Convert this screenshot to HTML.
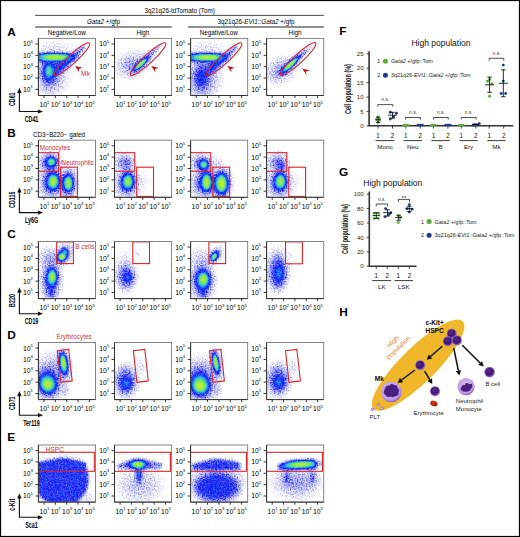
<!DOCTYPE html><html><head><meta charset="utf-8"><style>html,body{margin:0;padding:0;background:#fff}svg{display:block}text{font-family:"Liberation Sans",sans-serif}</style></head><body>
<svg width="520" height="537" viewBox="0 0 520 537">
<defs>
<filter id="b0" x="-100%" y="-100%" width="300%" height="300%"><feGaussianBlur stdDeviation="0.6"/></filter>
<filter id="b1" x="-100%" y="-100%" width="300%" height="300%"><feGaussianBlur stdDeviation="1"/></filter>
<filter id="b2" x="-100%" y="-100%" width="300%" height="300%"><feGaussianBlur stdDeviation="1.5"/></filter>
<filter id="b3" x="-100%" y="-100%" width="300%" height="300%"><feGaussianBlur stdDeviation="2.2"/></filter>
<filter id="b4" x="-100%" y="-100%" width="300%" height="300%"><feGaussianBlur stdDeviation="3.2"/></filter>
<filter id="g0" x="-100%" y="-100%" width="300%" height="300%"><feGaussianBlur stdDeviation="0.5"/></filter>
<filter id="g1" x="-100%" y="-100%" width="300%" height="300%"><feGaussianBlur stdDeviation="0.7"/></filter>
<filter id="g2" x="-100%" y="-100%" width="300%" height="300%"><feGaussianBlur stdDeviation="1"/></filter>
<filter id="g3" x="-100%" y="-100%" width="300%" height="300%"><feGaussianBlur stdDeviation="1.3"/></filter>
<filter id="g4" x="-100%" y="-100%" width="300%" height="300%"><feGaussianBlur stdDeviation="1.6"/></filter>
<filter id="g5" x="-100%" y="-100%" width="300%" height="300%"><feGaussianBlur stdDeviation="2"/></filter>
<filter id="g6" x="-100%" y="-100%" width="300%" height="300%"><feGaussianBlur stdDeviation="2.5"/></filter>
<filter id="g7" x="-100%" y="-100%" width="300%" height="300%"><feGaussianBlur stdDeviation="3"/></filter>
<filter id="g8" x="-100%" y="-100%" width="300%" height="300%"><feGaussianBlur stdDeviation="3.6"/></filter>
<filter id="g9" x="-100%" y="-100%" width="300%" height="300%"><feGaussianBlur stdDeviation="4.3"/></filter>
<filter id="g10" x="-100%" y="-100%" width="300%" height="300%"><feGaussianBlur stdDeviation="5"/></filter>
<filter id="cm" filterUnits="userSpaceOnUse" x="0" y="0" width="57.1" height="57.1" color-interpolation-filters="sRGB"><feColorMatrix in="SourceGraphic" type="matrix" values="0 0 0 1 0 0 0 0 1 0 0 0 0 1 0 0 0 0 0 1" result="d"/><feComponentTransfer in="d" result="h"><feFuncR type="table" tableValues="0 1 1 1 .9 .6 .35 .2 .12 .08 .06"/><feFuncG type="table" tableValues="0 1 1 1 .9 .6 .35 .2 .12 .08 .06"/><feFuncB type="table" tableValues="0 1 1 1 .9 .6 .35 .2 .12 .08 .06"/></feComponentTransfer><feTurbulence type="fractalNoise" baseFrequency="0.75" numOctaves="1" seed="4"/><feColorMatrix type="matrix" values="1 0 0 0 0 1 0 0 0 0 1 0 0 0 0 0 0 0 0 1" result="n"/><feComposite in="h" in2="n" operator="arithmetic" k1="0.8" k2="-0.4" k3="0" k4="0.5" result="t"/><feComposite in="d" in2="t" operator="arithmetic" k1="0" k2="1" k3="1" k4="-0.54" result="dn"/><feComponentTransfer in="dn"><feFuncR type="table" tableValues="1 .87 .73 .55 .30 .05 .12 .24 .47 .67 .9"/><feFuncG type="table" tableValues="1 .87 .73 .57 .33 .10 .47 .78 .90 .94 .92"/><feFuncB type="table" tableValues="1 1 1 .99 .98 .99 .94 .82 .43 .20 .08"/><feFuncA type="linear" slope="0" intercept="1"/></feComponentTransfer></filter>
<marker id="ah" viewBox="0 0 10 10" refX="9" refY="5" markerWidth="4" markerHeight="4" orient="auto"><path d="M0 0L10 5L0 10z" fill="#111"/></marker>
</defs>
<rect x="0.5" y="0.5" width="519" height="536" fill="#fff" stroke="#000" stroke-width="1.2"/>
<svg x="38.4" y="38.4" width="57.1" height="57.1" overflow="hidden">
<g filter="url(#cm)">
<ellipse cx="14" cy="40" rx="18.2" ry="18.2" fill-opacity="0.08" filter="url(#g10)"/>
<ellipse cx="14" cy="40" rx="11.9" ry="11.9" fill-opacity="0.07" filter="url(#g9)"/>
<ellipse cx="14" cy="40" rx="7.7" ry="7.7" fill-opacity="0.05" filter="url(#g6)"/>
<ellipse cx="14" cy="40" rx="4.2" ry="4.2" fill-opacity="0.02" filter="url(#g4)"/>
<ellipse cx="18" cy="8" rx="23.4" ry="7.8" fill-opacity="0.03" filter="url(#g6)"/>
<ellipse cx="18" cy="8" rx="15.3" ry="5.1" fill-opacity="0.03" filter="url(#g4)"/>
<ellipse cx="18" cy="8" rx="9.9" ry="3.3" fill-opacity="0.02" filter="url(#g3)"/>
<ellipse cx="18" cy="8" rx="5.4" ry="1.8" fill-opacity="0.01" filter="url(#g1)"/>
<ellipse cx="10" cy="33.5" rx="11.7" ry="20.15" fill-opacity="0.18" filter="url(#g9)"/>
<ellipse cx="10" cy="33.5" rx="7.65" ry="13.17" fill-opacity="0.17" filter="url(#g6)"/>
<ellipse cx="10" cy="33.5" rx="4.95" ry="8.53" fill-opacity="0.13" filter="url(#g4)"/>
<ellipse cx="10" cy="33.5" rx="2.7" ry="4.65" fill-opacity="0.06" filter="url(#g2)"/>
<ellipse cx="10.5" cy="32.5" rx="6.5" ry="9.1" fill-opacity="0.24" filter="url(#g6)"/>
<ellipse cx="10.5" cy="32.5" rx="4.25" ry="5.95" fill-opacity="0.25" filter="url(#g4)"/>
<ellipse cx="10.5" cy="32.5" rx="2.75" ry="3.85" fill-opacity="0.21" filter="url(#g2)"/>
<ellipse cx="10.5" cy="32.5" rx="1.5" ry="2.1" fill-opacity="0.11" filter="url(#g0)"/>
<ellipse cx="22" cy="27" rx="10.4" ry="7.8" fill-opacity="0.12" transform="rotate(-30 22 27)" filter="url(#g6)"/>
<ellipse cx="22" cy="27" rx="6.8" ry="5.1" fill-opacity="0.11" transform="rotate(-30 22 27)" filter="url(#g4)"/>
<ellipse cx="22" cy="27" rx="4.4" ry="3.3" fill-opacity="0.08" transform="rotate(-30 22 27)" filter="url(#g3)"/>
<ellipse cx="22" cy="27" rx="2.4" ry="1.8" fill-opacity="0.03" transform="rotate(-30 22 27)" filter="url(#g1)"/>
<path d="M-2 15 L33 15.3 L24 22 L-2 23 Z" fill-opacity="0.5" filter="url(#b1)"/>
<ellipse cx="17.5" cy="18.7" rx="22.1" ry="5.2" fill-opacity="0.35" transform="rotate(0.5 17.5 18.7)" filter="url(#g5)"/>
<ellipse cx="17.5" cy="18.7" rx="14.45" ry="3.4" fill-opacity="0.43" transform="rotate(0.5 17.5 18.7)" filter="url(#g3)"/>
<ellipse cx="17.5" cy="18.7" rx="9.35" ry="2.2" fill-opacity="0.47" transform="rotate(0.5 17.5 18.7)" filter="url(#g1)"/>
<ellipse cx="17.5" cy="18.7" rx="5.1" ry="1.2" fill-opacity="0.35" transform="rotate(0.5 17.5 18.7)" filter="url(#g0)"/>
<ellipse cx="30" cy="23" rx="22.1" ry="4.94" fill-opacity="0.17" transform="rotate(-43 30 23)" filter="url(#g4)"/>
<ellipse cx="30" cy="23" rx="14.45" ry="3.23" fill-opacity="0.16" transform="rotate(-43 30 23)" filter="url(#g2)"/>
<ellipse cx="30" cy="23" rx="9.35" ry="2.09" fill-opacity="0.12" transform="rotate(-43 30 23)" filter="url(#g1)"/>
<ellipse cx="30" cy="23" rx="5.1" ry="1.14" fill-opacity="0.05" transform="rotate(-43 30 23)" filter="url(#g0)"/>
<ellipse cx="42" cy="12" rx="11.7" ry="3.25" fill-opacity="0.08" transform="rotate(-43 42 12)" filter="url(#g2)"/>
<ellipse cx="42" cy="12" rx="7.65" ry="2.12" fill-opacity="0.07" transform="rotate(-43 42 12)" filter="url(#g1)"/>
<ellipse cx="42" cy="12" rx="4.95" ry="1.38" fill-opacity="0.05" transform="rotate(-43 42 12)" filter="url(#g0)"/>
<ellipse cx="42" cy="12" rx="2.7" ry="0.75" fill-opacity="0.02" transform="rotate(-43 42 12)" filter="url(#g0)"/>
</g>
<ellipse cx="33.6" cy="20.7" rx="23.7" ry="4.5" transform="rotate(-42.5 33.6 20.7)" fill="none" stroke="#d92525" stroke-width="1.1"/>
<path d="M36.6 27.6L44.3 29.4L40.4 30.6L41 34.2Z" fill="#c01818"/>
</svg>
<rect x="38.4" y="38.4" width="57.1" height="57.1" fill="none" stroke="#777" stroke-width="0.9"/>
<path d="M38.4 38.4V95.5H95.5" fill="none" stroke="#333" stroke-width="1"/>
<path d="M35.4 44H38.4M44 95.5V98.1M35.4 55.35H38.4M55.35 95.5V98.1M35.4 66.7H38.4M66.7 95.5V98.1M35.4 78.05H38.4M78.05 95.5V98.1M35.4 89.4H38.4M89.4 95.5V98.1" stroke="#222" stroke-width="0.9"/>
<text x="33" y="46.4" font-size="6.8" text-anchor="end">10<tspan dy="-3.5" font-size="4.3">5</tspan></text>
<text x="44.4" y="107" font-size="6.8" text-anchor="middle">10<tspan dy="-3.5" font-size="4.3">1</tspan></text>
<text x="33" y="57.75" font-size="6.8" text-anchor="end">10<tspan dy="-3.5" font-size="4.3">4</tspan></text>
<text x="55.75" y="107" font-size="6.8" text-anchor="middle">10<tspan dy="-3.5" font-size="4.3">2</tspan></text>
<text x="33" y="69.1" font-size="6.8" text-anchor="end">10<tspan dy="-3.5" font-size="4.3">3</tspan></text>
<text x="67.1" y="107" font-size="6.8" text-anchor="middle">10<tspan dy="-3.5" font-size="4.3">3</tspan></text>
<text x="33" y="80.45" font-size="6.8" text-anchor="end">10<tspan dy="-3.5" font-size="4.3">2</tspan></text>
<text x="78.45" y="107" font-size="6.8" text-anchor="middle">10<tspan dy="-3.5" font-size="4.3">4</tspan></text>
<text x="33" y="91.8" font-size="6.8" text-anchor="end">10<tspan dy="-3.5" font-size="4.3">1</tspan></text>
<text x="89.8" y="107" font-size="6.8" text-anchor="middle">10<tspan dy="-3.5" font-size="4.3">5</tspan></text>
<svg x="114.5" y="38.4" width="57.1" height="57.1" overflow="hidden">
<g filter="url(#cm)">
<ellipse cx="16" cy="26" rx="18.2" ry="13" fill-opacity="0.11" transform="rotate(-25 16 26)" filter="url(#g9)"/>
<ellipse cx="16" cy="26" rx="11.9" ry="8.5" fill-opacity="0.1" transform="rotate(-25 16 26)" filter="url(#g7)"/>
<ellipse cx="16" cy="26" rx="7.7" ry="5.5" fill-opacity="0.07" transform="rotate(-25 16 26)" filter="url(#g5)"/>
<ellipse cx="16" cy="26" rx="4.2" ry="3" fill-opacity="0.03" transform="rotate(-25 16 26)" filter="url(#g2)"/>
<ellipse cx="28" cy="24" rx="20.8" ry="5.46" fill-opacity="0.15" transform="rotate(-43 28 24)" filter="url(#g5)"/>
<ellipse cx="28" cy="24" rx="13.6" ry="3.57" fill-opacity="0.14" transform="rotate(-43 28 24)" filter="url(#g3)"/>
<ellipse cx="28" cy="24" rx="8.8" ry="2.31" fill-opacity="0.1" transform="rotate(-43 28 24)" filter="url(#g1)"/>
<ellipse cx="28" cy="24" rx="4.8" ry="1.26" fill-opacity="0.05" transform="rotate(-43 28 24)" filter="url(#g0)"/>
<ellipse cx="26.5" cy="25.5" rx="11.7" ry="3.12" fill-opacity="0.34" transform="rotate(-43 26.5 25.5)" filter="url(#g2)"/>
<ellipse cx="26.5" cy="25.5" rx="7.65" ry="2.04" fill-opacity="0.41" transform="rotate(-43 26.5 25.5)" filter="url(#g1)"/>
<ellipse cx="26.5" cy="25.5" rx="4.95" ry="1.32" fill-opacity="0.44" transform="rotate(-43 26.5 25.5)" filter="url(#g0)"/>
<ellipse cx="26.5" cy="25.5" rx="2.7" ry="0.72" fill-opacity="0.31" transform="rotate(-43 26.5 25.5)" filter="url(#g0)"/>
<ellipse cx="40" cy="12" rx="10.4" ry="2.86" fill-opacity="0.09" transform="rotate(-43 40 12)" filter="url(#g2)"/>
<ellipse cx="40" cy="12" rx="6.8" ry="1.87" fill-opacity="0.08" transform="rotate(-43 40 12)" filter="url(#g1)"/>
<ellipse cx="40" cy="12" rx="4.4" ry="1.21" fill-opacity="0.05" transform="rotate(-43 40 12)" filter="url(#g0)"/>
<ellipse cx="40" cy="12" rx="2.4" ry="0.66" fill-opacity="0.02" transform="rotate(-43 40 12)" filter="url(#g0)"/>
</g>
<ellipse cx="33.6" cy="20.7" rx="23.7" ry="4.5" transform="rotate(-42.5 33.6 20.7)" fill="none" stroke="#d92525" stroke-width="1.1"/>
<path d="M36.6 27.6L44.3 29.4L40.4 30.6L41 34.2Z" fill="#c01818"/>
</svg>
<rect x="114.5" y="38.4" width="57.1" height="57.1" fill="none" stroke="#777" stroke-width="0.9"/>
<path d="M114.5 38.4V95.5H171.6" fill="none" stroke="#333" stroke-width="1"/>
<path d="M111.5 44H114.5M120.1 95.5V98.1M111.5 55.35H114.5M131.45 95.5V98.1M111.5 66.7H114.5M142.8 95.5V98.1M111.5 78.05H114.5M154.15 95.5V98.1M111.5 89.4H114.5M165.5 95.5V98.1" stroke="#222" stroke-width="0.9"/>
<text x="109.1" y="46.4" font-size="6.8" text-anchor="end">10<tspan dy="-3.5" font-size="4.3">5</tspan></text>
<text x="120.5" y="107" font-size="6.8" text-anchor="middle">10<tspan dy="-3.5" font-size="4.3">1</tspan></text>
<text x="109.1" y="57.75" font-size="6.8" text-anchor="end">10<tspan dy="-3.5" font-size="4.3">4</tspan></text>
<text x="131.85" y="107" font-size="6.8" text-anchor="middle">10<tspan dy="-3.5" font-size="4.3">2</tspan></text>
<text x="109.1" y="69.1" font-size="6.8" text-anchor="end">10<tspan dy="-3.5" font-size="4.3">3</tspan></text>
<text x="143.2" y="107" font-size="6.8" text-anchor="middle">10<tspan dy="-3.5" font-size="4.3">3</tspan></text>
<text x="109.1" y="80.45" font-size="6.8" text-anchor="end">10<tspan dy="-3.5" font-size="4.3">2</tspan></text>
<text x="154.55" y="107" font-size="6.8" text-anchor="middle">10<tspan dy="-3.5" font-size="4.3">4</tspan></text>
<text x="109.1" y="91.8" font-size="6.8" text-anchor="end">10<tspan dy="-3.5" font-size="4.3">1</tspan></text>
<text x="165.9" y="107" font-size="6.8" text-anchor="middle">10<tspan dy="-3.5" font-size="4.3">5</tspan></text>
<svg x="190.6" y="38.4" width="57.1" height="57.1" overflow="hidden">
<g filter="url(#cm)">
<ellipse cx="14" cy="42" rx="18.2" ry="18.2" fill-opacity="0.1" filter="url(#g10)"/>
<ellipse cx="14" cy="42" rx="11.9" ry="11.9" fill-opacity="0.09" filter="url(#g9)"/>
<ellipse cx="14" cy="42" rx="7.7" ry="7.7" fill-opacity="0.06" filter="url(#g6)"/>
<ellipse cx="14" cy="42" rx="4.2" ry="4.2" fill-opacity="0.03" filter="url(#g4)"/>
<ellipse cx="18" cy="8" rx="23.4" ry="7.8" fill-opacity="0.03" filter="url(#g6)"/>
<ellipse cx="18" cy="8" rx="15.3" ry="5.1" fill-opacity="0.03" filter="url(#g4)"/>
<ellipse cx="18" cy="8" rx="9.9" ry="3.3" fill-opacity="0.02" filter="url(#g3)"/>
<ellipse cx="18" cy="8" rx="5.4" ry="1.8" fill-opacity="0.01" filter="url(#g1)"/>
<ellipse cx="10" cy="38" rx="11.7" ry="22.1" fill-opacity="0.17" filter="url(#g9)"/>
<ellipse cx="10" cy="38" rx="7.65" ry="14.45" fill-opacity="0.16" filter="url(#g6)"/>
<ellipse cx="10" cy="38" rx="4.95" ry="9.35" fill-opacity="0.12" filter="url(#g4)"/>
<ellipse cx="10" cy="38" rx="2.7" ry="5.1" fill-opacity="0.05" filter="url(#g2)"/>
<ellipse cx="22" cy="27" rx="10.4" ry="7.8" fill-opacity="0.12" transform="rotate(-30 22 27)" filter="url(#g6)"/>
<ellipse cx="22" cy="27" rx="6.8" ry="5.1" fill-opacity="0.11" transform="rotate(-30 22 27)" filter="url(#g4)"/>
<ellipse cx="22" cy="27" rx="4.4" ry="3.3" fill-opacity="0.08" transform="rotate(-30 22 27)" filter="url(#g3)"/>
<ellipse cx="22" cy="27" rx="2.4" ry="1.8" fill-opacity="0.03" transform="rotate(-30 22 27)" filter="url(#g1)"/>
<path d="M-2 15 L33 15.3 L24 22 L-2 23 Z" fill-opacity="0.5" filter="url(#b1)"/>
<ellipse cx="17.5" cy="18.9" rx="22.1" ry="5.2" fill-opacity="0.35" transform="rotate(0.5 17.5 18.9)" filter="url(#g5)"/>
<ellipse cx="17.5" cy="18.9" rx="14.45" ry="3.4" fill-opacity="0.43" transform="rotate(0.5 17.5 18.9)" filter="url(#g3)"/>
<ellipse cx="17.5" cy="18.9" rx="9.35" ry="2.2" fill-opacity="0.47" transform="rotate(0.5 17.5 18.9)" filter="url(#g1)"/>
<ellipse cx="17.5" cy="18.9" rx="5.1" ry="1.2" fill-opacity="0.35" transform="rotate(0.5 17.5 18.9)" filter="url(#g0)"/>
<ellipse cx="30" cy="23" rx="22.1" ry="4.94" fill-opacity="0.17" transform="rotate(-43 30 23)" filter="url(#g4)"/>
<ellipse cx="30" cy="23" rx="14.45" ry="3.23" fill-opacity="0.16" transform="rotate(-43 30 23)" filter="url(#g2)"/>
<ellipse cx="30" cy="23" rx="9.35" ry="2.09" fill-opacity="0.12" transform="rotate(-43 30 23)" filter="url(#g1)"/>
<ellipse cx="30" cy="23" rx="5.1" ry="1.14" fill-opacity="0.05" transform="rotate(-43 30 23)" filter="url(#g0)"/>
<ellipse cx="42" cy="12" rx="11.7" ry="3.25" fill-opacity="0.08" transform="rotate(-43 42 12)" filter="url(#g2)"/>
<ellipse cx="42" cy="12" rx="7.65" ry="2.12" fill-opacity="0.07" transform="rotate(-43 42 12)" filter="url(#g1)"/>
<ellipse cx="42" cy="12" rx="4.95" ry="1.38" fill-opacity="0.05" transform="rotate(-43 42 12)" filter="url(#g0)"/>
<ellipse cx="42" cy="12" rx="2.7" ry="0.75" fill-opacity="0.02" transform="rotate(-43 42 12)" filter="url(#g0)"/>
</g>
<ellipse cx="33.6" cy="20.7" rx="23.7" ry="4.5" transform="rotate(-42.5 33.6 20.7)" fill="none" stroke="#d92525" stroke-width="1.1"/>
<path d="M36.6 27.6L44.3 29.4L40.4 30.6L41 34.2Z" fill="#c01818"/>
</svg>
<rect x="190.6" y="38.4" width="57.1" height="57.1" fill="none" stroke="#777" stroke-width="0.9"/>
<path d="M190.6 38.4V95.5H247.7" fill="none" stroke="#333" stroke-width="1"/>
<path d="M187.6 44H190.6M196.2 95.5V98.1M187.6 55.35H190.6M207.55 95.5V98.1M187.6 66.7H190.6M218.9 95.5V98.1M187.6 78.05H190.6M230.25 95.5V98.1M187.6 89.4H190.6M241.6 95.5V98.1" stroke="#222" stroke-width="0.9"/>
<text x="185.2" y="46.4" font-size="6.8" text-anchor="end">10<tspan dy="-3.5" font-size="4.3">5</tspan></text>
<text x="196.6" y="107" font-size="6.8" text-anchor="middle">10<tspan dy="-3.5" font-size="4.3">1</tspan></text>
<text x="185.2" y="57.75" font-size="6.8" text-anchor="end">10<tspan dy="-3.5" font-size="4.3">4</tspan></text>
<text x="207.95" y="107" font-size="6.8" text-anchor="middle">10<tspan dy="-3.5" font-size="4.3">2</tspan></text>
<text x="185.2" y="69.1" font-size="6.8" text-anchor="end">10<tspan dy="-3.5" font-size="4.3">3</tspan></text>
<text x="219.3" y="107" font-size="6.8" text-anchor="middle">10<tspan dy="-3.5" font-size="4.3">3</tspan></text>
<text x="185.2" y="80.45" font-size="6.8" text-anchor="end">10<tspan dy="-3.5" font-size="4.3">2</tspan></text>
<text x="230.65" y="107" font-size="6.8" text-anchor="middle">10<tspan dy="-3.5" font-size="4.3">4</tspan></text>
<text x="185.2" y="91.8" font-size="6.8" text-anchor="end">10<tspan dy="-3.5" font-size="4.3">1</tspan></text>
<text x="242" y="107" font-size="6.8" text-anchor="middle">10<tspan dy="-3.5" font-size="4.3">5</tspan></text>
<svg x="266.6" y="38.4" width="57.1" height="57.1" overflow="hidden">
<g filter="url(#cm)">
<ellipse cx="14" cy="32" rx="18.2" ry="13" fill-opacity="0.12" transform="rotate(-30 14 32)" filter="url(#g9)"/>
<ellipse cx="14" cy="32" rx="11.9" ry="8.5" fill-opacity="0.11" transform="rotate(-30 14 32)" filter="url(#g7)"/>
<ellipse cx="14" cy="32" rx="7.7" ry="5.5" fill-opacity="0.08" transform="rotate(-30 14 32)" filter="url(#g5)"/>
<ellipse cx="14" cy="32" rx="4.2" ry="3" fill-opacity="0.03" transform="rotate(-30 14 32)" filter="url(#g2)"/>
<ellipse cx="25" cy="25" rx="19.5" ry="4.68" fill-opacity="0.2" transform="rotate(-43 25 25)" filter="url(#g4)"/>
<ellipse cx="25" cy="25" rx="12.75" ry="3.06" fill-opacity="0.2" transform="rotate(-43 25 25)" filter="url(#g2)"/>
<ellipse cx="25" cy="25" rx="8.25" ry="1.98" fill-opacity="0.16" transform="rotate(-43 25 25)" filter="url(#g1)"/>
<ellipse cx="25" cy="25" rx="4.5" ry="1.08" fill-opacity="0.07" transform="rotate(-43 25 25)" filter="url(#g0)"/>
<ellipse cx="24" cy="26" rx="13" ry="2.99" fill-opacity="0.34" transform="rotate(-43 24 26)" filter="url(#g2)"/>
<ellipse cx="24" cy="26" rx="8.5" ry="1.95" fill-opacity="0.42" transform="rotate(-43 24 26)" filter="url(#g1)"/>
<ellipse cx="24" cy="26" rx="5.5" ry="1.26" fill-opacity="0.45" transform="rotate(-43 24 26)" filter="url(#g0)"/>
<ellipse cx="24" cy="26" rx="3" ry="0.69" fill-opacity="0.33" transform="rotate(-43 24 26)" filter="url(#g0)"/>
<ellipse cx="38" cy="14" rx="11.7" ry="2.86" fill-opacity="0.1" transform="rotate(-43 38 14)" filter="url(#g2)"/>
<ellipse cx="38" cy="14" rx="7.65" ry="1.87" fill-opacity="0.09" transform="rotate(-43 38 14)" filter="url(#g1)"/>
<ellipse cx="38" cy="14" rx="4.95" ry="1.21" fill-opacity="0.06" transform="rotate(-43 38 14)" filter="url(#g0)"/>
<ellipse cx="38" cy="14" rx="2.7" ry="0.66" fill-opacity="0.03" transform="rotate(-43 38 14)" filter="url(#g0)"/>
</g>
<ellipse cx="31.5" cy="20.7" rx="23.9" ry="4.5" transform="rotate(-42.5 31.5 20.7)" fill="none" stroke="#d92525" stroke-width="1.1"/>
<path d="M35.6 30.2L43.3 32L39.4 33.2L40 36.8Z" fill="#c01818"/>
</svg>
<rect x="266.6" y="38.4" width="57.1" height="57.1" fill="none" stroke="#777" stroke-width="0.9"/>
<path d="M266.6 38.4V95.5H323.7" fill="none" stroke="#333" stroke-width="1"/>
<path d="M263.6 44H266.6M272.2 95.5V98.1M263.6 55.35H266.6M283.55 95.5V98.1M263.6 66.7H266.6M294.9 95.5V98.1M263.6 78.05H266.6M306.25 95.5V98.1M263.6 89.4H266.6M317.6 95.5V98.1" stroke="#222" stroke-width="0.9"/>
<text x="261.2" y="46.4" font-size="6.8" text-anchor="end">10<tspan dy="-3.5" font-size="4.3">5</tspan></text>
<text x="272.6" y="107" font-size="6.8" text-anchor="middle">10<tspan dy="-3.5" font-size="4.3">1</tspan></text>
<text x="261.2" y="57.75" font-size="6.8" text-anchor="end">10<tspan dy="-3.5" font-size="4.3">4</tspan></text>
<text x="283.95" y="107" font-size="6.8" text-anchor="middle">10<tspan dy="-3.5" font-size="4.3">2</tspan></text>
<text x="261.2" y="69.1" font-size="6.8" text-anchor="end">10<tspan dy="-3.5" font-size="4.3">3</tspan></text>
<text x="295.3" y="107" font-size="6.8" text-anchor="middle">10<tspan dy="-3.5" font-size="4.3">3</tspan></text>
<text x="261.2" y="80.45" font-size="6.8" text-anchor="end">10<tspan dy="-3.5" font-size="4.3">2</tspan></text>
<text x="306.65" y="107" font-size="6.8" text-anchor="middle">10<tspan dy="-3.5" font-size="4.3">4</tspan></text>
<text x="261.2" y="91.8" font-size="6.8" text-anchor="end">10<tspan dy="-3.5" font-size="4.3">1</tspan></text>
<text x="318" y="107" font-size="6.8" text-anchor="middle">10<tspan dy="-3.5" font-size="4.3">5</tspan></text>
<svg x="38.4" y="140.2" width="57.1" height="57.1" overflow="hidden">
<g filter="url(#cm)">
<ellipse cx="11" cy="22" rx="12.35" ry="11.05" fill-opacity="0.2" filter="url(#g8)"/>
<ellipse cx="11" cy="22" rx="8.07" ry="7.22" fill-opacity="0.2" filter="url(#g6)"/>
<ellipse cx="11" cy="22" rx="5.23" ry="4.68" fill-opacity="0.16" filter="url(#g4)"/>
<ellipse cx="11" cy="22" rx="2.85" ry="2.55" fill-opacity="0.07" filter="url(#g2)"/>
<ellipse cx="13.5" cy="21.5" rx="5.85" ry="5.85" fill-opacity="0.3" filter="url(#g5)"/>
<ellipse cx="13.5" cy="21.5" rx="3.82" ry="3.82" fill-opacity="0.34" filter="url(#g3)"/>
<ellipse cx="13.5" cy="21.5" rx="2.48" ry="2.48" fill-opacity="0.33" filter="url(#g2)"/>
<ellipse cx="13.5" cy="21.5" rx="1.35" ry="1.35" fill-opacity="0.19" filter="url(#g0)"/>
<ellipse cx="13" cy="43" rx="13.65" ry="16.25" fill-opacity="0.22" filter="url(#g10)"/>
<ellipse cx="13" cy="43" rx="8.92" ry="10.62" fill-opacity="0.23" filter="url(#g7)"/>
<ellipse cx="13" cy="43" rx="5.78" ry="6.88" fill-opacity="0.18" filter="url(#g5)"/>
<ellipse cx="13" cy="43" rx="3.15" ry="3.75" fill-opacity="0.09" filter="url(#g2)"/>
<ellipse cx="15" cy="41" rx="7.15" ry="10.4" fill-opacity="0.35" filter="url(#g6)"/>
<ellipse cx="15" cy="41" rx="4.67" ry="6.8" fill-opacity="0.43" filter="url(#g4)"/>
<ellipse cx="15" cy="41" rx="3.03" ry="4.4" fill-opacity="0.48" filter="url(#g2)"/>
<ellipse cx="15" cy="41" rx="1.65" ry="2.4" fill-opacity="0.37" filter="url(#g0)"/>
<ellipse cx="30" cy="43" rx="8.84" ry="16.9" fill-opacity="0.22" filter="url(#g7)"/>
<ellipse cx="30" cy="43" rx="5.78" ry="11.05" fill-opacity="0.23" filter="url(#g5)"/>
<ellipse cx="30" cy="43" rx="3.74" ry="7.15" fill-opacity="0.18" filter="url(#g3)"/>
<ellipse cx="30" cy="43" rx="2.04" ry="3.9" fill-opacity="0.09" filter="url(#g1)"/>
<ellipse cx="30" cy="43" rx="5.85" ry="10.4" fill-opacity="0.33" filter="url(#g5)"/>
<ellipse cx="30" cy="43" rx="3.82" ry="6.8" fill-opacity="0.39" filter="url(#g3)"/>
<ellipse cx="30" cy="43" rx="2.48" ry="4.4" fill-opacity="0.4" filter="url(#g2)"/>
<ellipse cx="30" cy="43" rx="1.35" ry="2.4" fill-opacity="0.27" filter="url(#g0)"/>
</g>
<rect x="-0.4" y="12.5" width="20.6" height="18.6" fill="none" stroke="#d92525" stroke-width="1.1"/>
<rect x="22.2" y="27" width="16.8" height="29.2" fill="none" stroke="#d92525" stroke-width="1.1"/>
</svg>
<rect x="38.4" y="140.2" width="57.1" height="57.1" fill="none" stroke="#777" stroke-width="0.9"/>
<path d="M38.4 140.2V197.3H95.5" fill="none" stroke="#333" stroke-width="1"/>
<path d="M35.4 145.8H38.4M44 197.3V199.9M35.4 157.15H38.4M55.35 197.3V199.9M35.4 168.5H38.4M66.7 197.3V199.9M35.4 179.85H38.4M78.05 197.3V199.9M35.4 191.2H38.4M89.4 197.3V199.9" stroke="#222" stroke-width="0.9"/>
<text x="33" y="148.2" font-size="6.8" text-anchor="end">10<tspan dy="-3.5" font-size="4.3">5</tspan></text>
<text x="44.4" y="208.8" font-size="6.8" text-anchor="middle">10<tspan dy="-3.5" font-size="4.3">1</tspan></text>
<text x="33" y="159.55" font-size="6.8" text-anchor="end">10<tspan dy="-3.5" font-size="4.3">4</tspan></text>
<text x="55.75" y="208.8" font-size="6.8" text-anchor="middle">10<tspan dy="-3.5" font-size="4.3">2</tspan></text>
<text x="33" y="170.9" font-size="6.8" text-anchor="end">10<tspan dy="-3.5" font-size="4.3">3</tspan></text>
<text x="67.1" y="208.8" font-size="6.8" text-anchor="middle">10<tspan dy="-3.5" font-size="4.3">3</tspan></text>
<text x="33" y="182.25" font-size="6.8" text-anchor="end">10<tspan dy="-3.5" font-size="4.3">2</tspan></text>
<text x="78.45" y="208.8" font-size="6.8" text-anchor="middle">10<tspan dy="-3.5" font-size="4.3">4</tspan></text>
<text x="33" y="193.6" font-size="6.8" text-anchor="end">10<tspan dy="-3.5" font-size="4.3">1</tspan></text>
<text x="89.8" y="208.8" font-size="6.8" text-anchor="middle">10<tspan dy="-3.5" font-size="4.3">5</tspan></text>
<svg x="114.5" y="140.2" width="57.1" height="57.1" overflow="hidden">
<g filter="url(#cm)">
<ellipse cx="9.5" cy="22" rx="12.35" ry="11.05" fill-opacity="0.13" filter="url(#g8)"/>
<ellipse cx="9.5" cy="22" rx="8.07" ry="7.22" fill-opacity="0.12" filter="url(#g6)"/>
<ellipse cx="9.5" cy="22" rx="5.23" ry="4.68" fill-opacity="0.09" filter="url(#g4)"/>
<ellipse cx="9.5" cy="22" rx="2.85" ry="2.55" fill-opacity="0.04" filter="url(#g2)"/>
<ellipse cx="14" cy="24" rx="5.2" ry="7.8" fill-opacity="0.06" filter="url(#g5)"/>
<ellipse cx="14" cy="24" rx="3.4" ry="5.1" fill-opacity="0.05" filter="url(#g3)"/>
<ellipse cx="14" cy="24" rx="2.2" ry="3.3" fill-opacity="0.03" filter="url(#g1)"/>
<ellipse cx="14" cy="24" rx="1.2" ry="1.8" fill-opacity="0.01" filter="url(#g0)"/>
<ellipse cx="12" cy="44" rx="13.65" ry="15.6" fill-opacity="0.17" filter="url(#g10)"/>
<ellipse cx="12" cy="44" rx="8.92" ry="10.2" fill-opacity="0.16" filter="url(#g7)"/>
<ellipse cx="12" cy="44" rx="5.78" ry="6.6" fill-opacity="0.12" filter="url(#g5)"/>
<ellipse cx="12" cy="44" rx="3.15" ry="3.6" fill-opacity="0.05" filter="url(#g2)"/>
<ellipse cx="13.5" cy="41" rx="7.8" ry="11.05" fill-opacity="0.34" filter="url(#g6)"/>
<ellipse cx="13.5" cy="41" rx="5.1" ry="7.22" fill-opacity="0.41" filter="url(#g4)"/>
<ellipse cx="13.5" cy="41" rx="3.3" ry="4.68" fill-opacity="0.44" filter="url(#g3)"/>
<ellipse cx="13.5" cy="41" rx="1.8" ry="2.55" fill-opacity="0.31" filter="url(#g1)"/>
<ellipse cx="30" cy="40" rx="9.1" ry="16.9" fill-opacity="0.02" filter="url(#g7)"/>
<ellipse cx="30" cy="40" rx="5.95" ry="11.05" fill-opacity="0.01" filter="url(#g5)"/>
<ellipse cx="30" cy="40" rx="3.85" ry="7.15" fill-opacity="0.01" filter="url(#g3)"/>
<ellipse cx="30" cy="40" rx="2.1" ry="3.9" fill-opacity="0" filter="url(#g1)"/>
</g>
<rect x="-0.4" y="12.5" width="20.6" height="18.6" fill="none" stroke="#d92525" stroke-width="1.1"/>
<rect x="22.2" y="27" width="16.8" height="29.2" fill="none" stroke="#d92525" stroke-width="1.1"/>
</svg>
<rect x="114.5" y="140.2" width="57.1" height="57.1" fill="none" stroke="#777" stroke-width="0.9"/>
<path d="M114.5 140.2V197.3H171.6" fill="none" stroke="#333" stroke-width="1"/>
<path d="M111.5 145.8H114.5M120.1 197.3V199.9M111.5 157.15H114.5M131.45 197.3V199.9M111.5 168.5H114.5M142.8 197.3V199.9M111.5 179.85H114.5M154.15 197.3V199.9M111.5 191.2H114.5M165.5 197.3V199.9" stroke="#222" stroke-width="0.9"/>
<text x="109.1" y="148.2" font-size="6.8" text-anchor="end">10<tspan dy="-3.5" font-size="4.3">5</tspan></text>
<text x="120.5" y="208.8" font-size="6.8" text-anchor="middle">10<tspan dy="-3.5" font-size="4.3">1</tspan></text>
<text x="109.1" y="159.55" font-size="6.8" text-anchor="end">10<tspan dy="-3.5" font-size="4.3">4</tspan></text>
<text x="131.85" y="208.8" font-size="6.8" text-anchor="middle">10<tspan dy="-3.5" font-size="4.3">2</tspan></text>
<text x="109.1" y="170.9" font-size="6.8" text-anchor="end">10<tspan dy="-3.5" font-size="4.3">3</tspan></text>
<text x="143.2" y="208.8" font-size="6.8" text-anchor="middle">10<tspan dy="-3.5" font-size="4.3">3</tspan></text>
<text x="109.1" y="182.25" font-size="6.8" text-anchor="end">10<tspan dy="-3.5" font-size="4.3">2</tspan></text>
<text x="154.55" y="208.8" font-size="6.8" text-anchor="middle">10<tspan dy="-3.5" font-size="4.3">4</tspan></text>
<text x="109.1" y="193.6" font-size="6.8" text-anchor="end">10<tspan dy="-3.5" font-size="4.3">1</tspan></text>
<text x="165.9" y="208.8" font-size="6.8" text-anchor="middle">10<tspan dy="-3.5" font-size="4.3">5</tspan></text>
<svg x="190.6" y="140.2" width="57.1" height="57.1" overflow="hidden">
<g filter="url(#cm)">
<ellipse cx="11" cy="23" rx="12.35" ry="10.4" fill-opacity="0.18" filter="url(#g8)"/>
<ellipse cx="11" cy="23" rx="8.07" ry="6.8" fill-opacity="0.18" filter="url(#g6)"/>
<ellipse cx="11" cy="23" rx="5.23" ry="4.4" fill-opacity="0.13" filter="url(#g4)"/>
<ellipse cx="11" cy="23" rx="2.85" ry="2.4" fill-opacity="0.06" filter="url(#g1)"/>
<ellipse cx="13.5" cy="24.5" rx="5.85" ry="5.85" fill-opacity="0.31" filter="url(#g5)"/>
<ellipse cx="13.5" cy="24.5" rx="3.82" ry="3.82" fill-opacity="0.36" filter="url(#g3)"/>
<ellipse cx="13.5" cy="24.5" rx="2.48" ry="2.48" fill-opacity="0.36" filter="url(#g2)"/>
<ellipse cx="13.5" cy="24.5" rx="1.35" ry="1.35" fill-opacity="0.22" filter="url(#g0)"/>
<ellipse cx="8" cy="44" rx="10.4" ry="14.3" fill-opacity="0.12" filter="url(#g8)"/>
<ellipse cx="8" cy="44" rx="6.8" ry="9.35" fill-opacity="0.11" filter="url(#g6)"/>
<ellipse cx="8" cy="44" rx="4.4" ry="6.05" fill-opacity="0.08" filter="url(#g4)"/>
<ellipse cx="8" cy="44" rx="2.4" ry="3.3" fill-opacity="0.03" filter="url(#g1)"/>
<ellipse cx="16" cy="42" rx="9.1" ry="15.6" fill-opacity="0.22" filter="url(#g7)"/>
<ellipse cx="16" cy="42" rx="5.95" ry="10.2" fill-opacity="0.23" filter="url(#g5)"/>
<ellipse cx="16" cy="42" rx="3.85" ry="6.6" fill-opacity="0.18" filter="url(#g3)"/>
<ellipse cx="16" cy="42" rx="2.1" ry="3.6" fill-opacity="0.09" filter="url(#g1)"/>
<ellipse cx="16" cy="42" rx="5.85" ry="11.05" fill-opacity="0.35" filter="url(#g5)"/>
<ellipse cx="16" cy="42" rx="3.82" ry="7.22" fill-opacity="0.43" filter="url(#g3)"/>
<ellipse cx="16" cy="42" rx="2.48" ry="4.68" fill-opacity="0.47" filter="url(#g2)"/>
<ellipse cx="16" cy="42" rx="1.35" ry="2.55" fill-opacity="0.35" filter="url(#g0)"/>
<ellipse cx="30.5" cy="43" rx="10.4" ry="16.9" fill-opacity="0.23" filter="url(#g8)"/>
<ellipse cx="30.5" cy="43" rx="6.8" ry="11.05" fill-opacity="0.24" filter="url(#g6)"/>
<ellipse cx="30.5" cy="43" rx="4.4" ry="7.15" fill-opacity="0.2" filter="url(#g4)"/>
<ellipse cx="30.5" cy="43" rx="2.4" ry="3.9" fill-opacity="0.1" filter="url(#g1)"/>
<ellipse cx="31" cy="43.5" rx="7.8" ry="13" fill-opacity="0.37" filter="url(#g6)"/>
<ellipse cx="31" cy="43.5" rx="5.1" ry="8.5" fill-opacity="0.47" filter="url(#g4)"/>
<ellipse cx="31" cy="43.5" rx="3.3" ry="5.5" fill-opacity="0.55" filter="url(#g3)"/>
<ellipse cx="31" cy="43.5" rx="1.8" ry="3" fill-opacity="0.48" filter="url(#g1)"/>
<ellipse cx="28" cy="22" rx="7.8" ry="6.5" fill-opacity="0.04" filter="url(#g6)"/>
<ellipse cx="28" cy="22" rx="5.1" ry="4.25" fill-opacity="0.03" filter="url(#g4)"/>
<ellipse cx="28" cy="22" rx="3.3" ry="2.75" fill-opacity="0.02" filter="url(#g2)"/>
<ellipse cx="28" cy="22" rx="1.8" ry="1.5" fill-opacity="0.01" filter="url(#g0)"/>
</g>
<rect x="-0.4" y="12.5" width="20.6" height="18.6" fill="none" stroke="#d92525" stroke-width="1.1"/>
<rect x="22.2" y="27" width="16.8" height="29.2" fill="none" stroke="#d92525" stroke-width="1.1"/>
</svg>
<rect x="190.6" y="140.2" width="57.1" height="57.1" fill="none" stroke="#777" stroke-width="0.9"/>
<path d="M190.6 140.2V197.3H247.7" fill="none" stroke="#333" stroke-width="1"/>
<path d="M187.6 145.8H190.6M196.2 197.3V199.9M187.6 157.15H190.6M207.55 197.3V199.9M187.6 168.5H190.6M218.9 197.3V199.9M187.6 179.85H190.6M230.25 197.3V199.9M187.6 191.2H190.6M241.6 197.3V199.9" stroke="#222" stroke-width="0.9"/>
<text x="185.2" y="148.2" font-size="6.8" text-anchor="end">10<tspan dy="-3.5" font-size="4.3">5</tspan></text>
<text x="196.6" y="208.8" font-size="6.8" text-anchor="middle">10<tspan dy="-3.5" font-size="4.3">1</tspan></text>
<text x="185.2" y="159.55" font-size="6.8" text-anchor="end">10<tspan dy="-3.5" font-size="4.3">4</tspan></text>
<text x="207.95" y="208.8" font-size="6.8" text-anchor="middle">10<tspan dy="-3.5" font-size="4.3">2</tspan></text>
<text x="185.2" y="170.9" font-size="6.8" text-anchor="end">10<tspan dy="-3.5" font-size="4.3">3</tspan></text>
<text x="219.3" y="208.8" font-size="6.8" text-anchor="middle">10<tspan dy="-3.5" font-size="4.3">3</tspan></text>
<text x="185.2" y="182.25" font-size="6.8" text-anchor="end">10<tspan dy="-3.5" font-size="4.3">2</tspan></text>
<text x="230.65" y="208.8" font-size="6.8" text-anchor="middle">10<tspan dy="-3.5" font-size="4.3">4</tspan></text>
<text x="185.2" y="193.6" font-size="6.8" text-anchor="end">10<tspan dy="-3.5" font-size="4.3">1</tspan></text>
<text x="242" y="208.8" font-size="6.8" text-anchor="middle">10<tspan dy="-3.5" font-size="4.3">5</tspan></text>
<svg x="266.6" y="140.2" width="57.1" height="57.1" overflow="hidden">
<g filter="url(#cm)">
<ellipse cx="11" cy="22" rx="12.35" ry="11.05" fill-opacity="0.15" filter="url(#g8)"/>
<ellipse cx="11" cy="22" rx="8.07" ry="7.22" fill-opacity="0.14" filter="url(#g6)"/>
<ellipse cx="11" cy="22" rx="5.23" ry="4.68" fill-opacity="0.1" filter="url(#g4)"/>
<ellipse cx="11" cy="22" rx="2.85" ry="2.55" fill-opacity="0.05" filter="url(#g2)"/>
<ellipse cx="15.5" cy="26" rx="5.2" ry="6.5" fill-opacity="0.12" filter="url(#g5)"/>
<ellipse cx="15.5" cy="26" rx="3.4" ry="4.25" fill-opacity="0.11" filter="url(#g3)"/>
<ellipse cx="15.5" cy="26" rx="2.2" ry="2.75" fill-opacity="0.08" filter="url(#g1)"/>
<ellipse cx="15.5" cy="26" rx="1.2" ry="1.5" fill-opacity="0.03" filter="url(#g0)"/>
<ellipse cx="12" cy="44" rx="13" ry="15.6" fill-opacity="0.18" filter="url(#g9)"/>
<ellipse cx="12" cy="44" rx="8.5" ry="10.2" fill-opacity="0.18" filter="url(#g7)"/>
<ellipse cx="12" cy="44" rx="5.5" ry="6.6" fill-opacity="0.13" filter="url(#g5)"/>
<ellipse cx="12" cy="44" rx="3" ry="3.6" fill-opacity="0.06" filter="url(#g2)"/>
<ellipse cx="14" cy="41" rx="7.8" ry="11.05" fill-opacity="0.34" filter="url(#g6)"/>
<ellipse cx="14" cy="41" rx="5.1" ry="7.22" fill-opacity="0.42" filter="url(#g4)"/>
<ellipse cx="14" cy="41" rx="3.3" ry="4.68" fill-opacity="0.45" filter="url(#g3)"/>
<ellipse cx="14" cy="41" rx="1.8" ry="2.55" fill-opacity="0.33" filter="url(#g1)"/>
<ellipse cx="30" cy="40" rx="9.1" ry="15.6" fill-opacity="0.02" filter="url(#g7)"/>
<ellipse cx="30" cy="40" rx="5.95" ry="10.2" fill-opacity="0.01" filter="url(#g5)"/>
<ellipse cx="30" cy="40" rx="3.85" ry="6.6" fill-opacity="0.01" filter="url(#g3)"/>
<ellipse cx="30" cy="40" rx="2.1" ry="3.6" fill-opacity="0" filter="url(#g1)"/>
</g>
<rect x="-0.4" y="12.5" width="20.6" height="18.6" fill="none" stroke="#d92525" stroke-width="1.1"/>
<rect x="22.2" y="27" width="16.8" height="29.2" fill="none" stroke="#d92525" stroke-width="1.1"/>
</svg>
<rect x="266.6" y="140.2" width="57.1" height="57.1" fill="none" stroke="#777" stroke-width="0.9"/>
<path d="M266.6 140.2V197.3H323.7" fill="none" stroke="#333" stroke-width="1"/>
<path d="M263.6 145.8H266.6M272.2 197.3V199.9M263.6 157.15H266.6M283.55 197.3V199.9M263.6 168.5H266.6M294.9 197.3V199.9M263.6 179.85H266.6M306.25 197.3V199.9M263.6 191.2H266.6M317.6 197.3V199.9" stroke="#222" stroke-width="0.9"/>
<text x="261.2" y="148.2" font-size="6.8" text-anchor="end">10<tspan dy="-3.5" font-size="4.3">5</tspan></text>
<text x="272.6" y="208.8" font-size="6.8" text-anchor="middle">10<tspan dy="-3.5" font-size="4.3">1</tspan></text>
<text x="261.2" y="159.55" font-size="6.8" text-anchor="end">10<tspan dy="-3.5" font-size="4.3">4</tspan></text>
<text x="283.95" y="208.8" font-size="6.8" text-anchor="middle">10<tspan dy="-3.5" font-size="4.3">2</tspan></text>
<text x="261.2" y="170.9" font-size="6.8" text-anchor="end">10<tspan dy="-3.5" font-size="4.3">3</tspan></text>
<text x="295.3" y="208.8" font-size="6.8" text-anchor="middle">10<tspan dy="-3.5" font-size="4.3">3</tspan></text>
<text x="261.2" y="182.25" font-size="6.8" text-anchor="end">10<tspan dy="-3.5" font-size="4.3">2</tspan></text>
<text x="306.65" y="208.8" font-size="6.8" text-anchor="middle">10<tspan dy="-3.5" font-size="4.3">4</tspan></text>
<text x="261.2" y="193.6" font-size="6.8" text-anchor="end">10<tspan dy="-3.5" font-size="4.3">1</tspan></text>
<text x="318" y="208.8" font-size="6.8" text-anchor="middle">10<tspan dy="-3.5" font-size="4.3">5</tspan></text>
<svg x="38.4" y="241.5" width="57.1" height="57.1" overflow="hidden">
<g filter="url(#cm)">
<ellipse cx="9.5" cy="17" rx="11.7" ry="13" fill-opacity="0.1" filter="url(#g9)"/>
<ellipse cx="9.5" cy="17" rx="7.65" ry="8.5" fill-opacity="0.09" filter="url(#g6)"/>
<ellipse cx="9.5" cy="17" rx="4.95" ry="5.5" fill-opacity="0.06" filter="url(#g4)"/>
<ellipse cx="9.5" cy="17" rx="2.7" ry="3" fill-opacity="0.03" filter="url(#g2)"/>
<ellipse cx="25" cy="13" rx="12.35" ry="8.06" fill-opacity="0.22" transform="rotate(-53 25 13)" filter="url(#g7)"/>
<ellipse cx="25" cy="13" rx="8.07" ry="5.27" fill-opacity="0.23" transform="rotate(-53 25 13)" filter="url(#g5)"/>
<ellipse cx="25" cy="13" rx="5.23" ry="3.41" fill-opacity="0.18" transform="rotate(-53 25 13)" filter="url(#g3)"/>
<ellipse cx="25" cy="13" rx="2.85" ry="1.86" fill-opacity="0.09" transform="rotate(-53 25 13)" filter="url(#g1)"/>
<ellipse cx="23.5" cy="15.5" rx="5.85" ry="5.2" fill-opacity="0.37" transform="rotate(-30 23.5 15.5)" filter="url(#g5)"/>
<ellipse cx="23.5" cy="15.5" rx="3.82" ry="3.4" fill-opacity="0.47" transform="rotate(-30 23.5 15.5)" filter="url(#g3)"/>
<ellipse cx="23.5" cy="15.5" rx="2.48" ry="2.2" fill-opacity="0.55" transform="rotate(-30 23.5 15.5)" filter="url(#g1)"/>
<ellipse cx="23.5" cy="15.5" rx="1.35" ry="1.2" fill-opacity="0.48" transform="rotate(-30 23.5 15.5)" filter="url(#g0)"/>
<ellipse cx="26.5" cy="9" rx="3.25" ry="5.2" fill-opacity="0.16" transform="rotate(-40 26.5 9)" filter="url(#g2)"/>
<ellipse cx="26.5" cy="9" rx="2.12" ry="3.4" fill-opacity="0.15" transform="rotate(-40 26.5 9)" filter="url(#g1)"/>
<ellipse cx="26.5" cy="9" rx="1.38" ry="2.2" fill-opacity="0.11" transform="rotate(-40 26.5 9)" filter="url(#g0)"/>
<ellipse cx="26.5" cy="9" rx="0.75" ry="1.2" fill-opacity="0.05" transform="rotate(-40 26.5 9)" filter="url(#g0)"/>
<ellipse cx="12" cy="40" rx="11.05" ry="19.5" fill-opacity="0.2" filter="url(#g8)"/>
<ellipse cx="12" cy="40" rx="7.22" ry="12.75" fill-opacity="0.2" filter="url(#g6)"/>
<ellipse cx="12" cy="40" rx="4.68" ry="8.25" fill-opacity="0.16" filter="url(#g4)"/>
<ellipse cx="12" cy="40" rx="2.55" ry="4.5" fill-opacity="0.07" filter="url(#g2)"/>
<ellipse cx="14" cy="35" rx="6.5" ry="11.05" fill-opacity="0.35" filter="url(#g6)"/>
<ellipse cx="14" cy="35" rx="4.25" ry="7.22" fill-opacity="0.43" filter="url(#g4)"/>
<ellipse cx="14" cy="35" rx="2.75" ry="4.68" fill-opacity="0.47" filter="url(#g2)"/>
<ellipse cx="14" cy="35" rx="1.5" ry="2.55" fill-opacity="0.35" filter="url(#g0)"/>
<ellipse cx="13" cy="52" rx="6.5" ry="6.5" fill-opacity="0.12" filter="url(#g6)"/>
<ellipse cx="13" cy="52" rx="4.25" ry="4.25" fill-opacity="0.11" filter="url(#g4)"/>
<ellipse cx="13" cy="52" rx="2.75" ry="2.75" fill-opacity="0.08" filter="url(#g2)"/>
<ellipse cx="13" cy="52" rx="1.5" ry="1.5" fill-opacity="0.03" filter="url(#g0)"/>
</g>
<rect x="18.3" y="0.4" width="16.7" height="21.7" fill="none" stroke="#d92525" stroke-width="1.1"/>
</svg>
<rect x="38.4" y="241.5" width="57.1" height="57.1" fill="none" stroke="#777" stroke-width="0.9"/>
<path d="M38.4 241.5V298.6H95.5" fill="none" stroke="#333" stroke-width="1"/>
<path d="M35.4 247.1H38.4M44 298.6V301.2M35.4 258.45H38.4M55.35 298.6V301.2M35.4 269.8H38.4M66.7 298.6V301.2M35.4 281.15H38.4M78.05 298.6V301.2M35.4 292.5H38.4M89.4 298.6V301.2" stroke="#222" stroke-width="0.9"/>
<text x="33" y="249.5" font-size="6.8" text-anchor="end">10<tspan dy="-3.5" font-size="4.3">5</tspan></text>
<text x="44.4" y="310.1" font-size="6.8" text-anchor="middle">10<tspan dy="-3.5" font-size="4.3">1</tspan></text>
<text x="33" y="260.85" font-size="6.8" text-anchor="end">10<tspan dy="-3.5" font-size="4.3">4</tspan></text>
<text x="55.75" y="310.1" font-size="6.8" text-anchor="middle">10<tspan dy="-3.5" font-size="4.3">2</tspan></text>
<text x="33" y="272.2" font-size="6.8" text-anchor="end">10<tspan dy="-3.5" font-size="4.3">3</tspan></text>
<text x="67.1" y="310.1" font-size="6.8" text-anchor="middle">10<tspan dy="-3.5" font-size="4.3">3</tspan></text>
<text x="33" y="283.55" font-size="6.8" text-anchor="end">10<tspan dy="-3.5" font-size="4.3">2</tspan></text>
<text x="78.45" y="310.1" font-size="6.8" text-anchor="middle">10<tspan dy="-3.5" font-size="4.3">4</tspan></text>
<text x="33" y="294.9" font-size="6.8" text-anchor="end">10<tspan dy="-3.5" font-size="4.3">1</tspan></text>
<text x="89.8" y="310.1" font-size="6.8" text-anchor="middle">10<tspan dy="-3.5" font-size="4.3">5</tspan></text>
<svg x="114.5" y="241.5" width="57.1" height="57.1" overflow="hidden">
<g filter="url(#cm)">
<ellipse cx="10" cy="25" rx="11.7" ry="18.2" fill-opacity="0.06" filter="url(#g9)"/>
<ellipse cx="10" cy="25" rx="7.65" ry="11.9" fill-opacity="0.05" filter="url(#g6)"/>
<ellipse cx="10" cy="25" rx="4.95" ry="7.7" fill-opacity="0.03" filter="url(#g4)"/>
<ellipse cx="10" cy="25" rx="2.7" ry="4.2" fill-opacity="0.01" filter="url(#g2)"/>
<ellipse cx="11.5" cy="36.5" rx="9.5" ry="13" fill-opacity="0.3" filter="url(#b4)"/>
<ellipse cx="13.5" cy="36" rx="6.5" ry="7.8" fill-opacity="0.18" filter="url(#g6)"/>
<ellipse cx="13.5" cy="36" rx="4.25" ry="5.1" fill-opacity="0.18" filter="url(#g4)"/>
<ellipse cx="13.5" cy="36" rx="2.75" ry="3.3" fill-opacity="0.13" filter="url(#g2)"/>
<ellipse cx="13.5" cy="36" rx="1.5" ry="1.8" fill-opacity="0.06" filter="url(#g0)"/>
<ellipse cx="24" cy="12" rx="3.9" ry="7.8" fill-opacity="0.03" transform="rotate(-30 24 12)" filter="url(#g3)"/>
<ellipse cx="24" cy="12" rx="2.55" ry="5.1" fill-opacity="0.03" transform="rotate(-30 24 12)" filter="url(#g2)"/>
<ellipse cx="24" cy="12" rx="1.65" ry="3.3" fill-opacity="0.02" transform="rotate(-30 24 12)" filter="url(#g0)"/>
<ellipse cx="24" cy="12" rx="0.9" ry="1.8" fill-opacity="0.01" transform="rotate(-30 24 12)" filter="url(#g0)"/>
</g>
<rect x="18.3" y="0.4" width="16.7" height="21.7" fill="none" stroke="#d92525" stroke-width="1.1"/>
</svg>
<rect x="114.5" y="241.5" width="57.1" height="57.1" fill="none" stroke="#777" stroke-width="0.9"/>
<path d="M114.5 241.5V298.6H171.6" fill="none" stroke="#333" stroke-width="1"/>
<path d="M111.5 247.1H114.5M120.1 298.6V301.2M111.5 258.45H114.5M131.45 298.6V301.2M111.5 269.8H114.5M142.8 298.6V301.2M111.5 281.15H114.5M154.15 298.6V301.2M111.5 292.5H114.5M165.5 298.6V301.2" stroke="#222" stroke-width="0.9"/>
<text x="109.1" y="249.5" font-size="6.8" text-anchor="end">10<tspan dy="-3.5" font-size="4.3">5</tspan></text>
<text x="120.5" y="310.1" font-size="6.8" text-anchor="middle">10<tspan dy="-3.5" font-size="4.3">1</tspan></text>
<text x="109.1" y="260.85" font-size="6.8" text-anchor="end">10<tspan dy="-3.5" font-size="4.3">4</tspan></text>
<text x="131.85" y="310.1" font-size="6.8" text-anchor="middle">10<tspan dy="-3.5" font-size="4.3">2</tspan></text>
<text x="109.1" y="272.2" font-size="6.8" text-anchor="end">10<tspan dy="-3.5" font-size="4.3">3</tspan></text>
<text x="143.2" y="310.1" font-size="6.8" text-anchor="middle">10<tspan dy="-3.5" font-size="4.3">3</tspan></text>
<text x="109.1" y="283.55" font-size="6.8" text-anchor="end">10<tspan dy="-3.5" font-size="4.3">2</tspan></text>
<text x="154.55" y="310.1" font-size="6.8" text-anchor="middle">10<tspan dy="-3.5" font-size="4.3">4</tspan></text>
<text x="109.1" y="294.9" font-size="6.8" text-anchor="end">10<tspan dy="-3.5" font-size="4.3">1</tspan></text>
<text x="165.9" y="310.1" font-size="6.8" text-anchor="middle">10<tspan dy="-3.5" font-size="4.3">5</tspan></text>
<svg x="190.6" y="241.5" width="57.1" height="57.1" overflow="hidden">
<g filter="url(#cm)">
<ellipse cx="10" cy="20" rx="13" ry="15.6" fill-opacity="0.08" filter="url(#g9)"/>
<ellipse cx="10" cy="20" rx="8.5" ry="10.2" fill-opacity="0.07" filter="url(#g7)"/>
<ellipse cx="10" cy="20" rx="5.5" ry="6.6" fill-opacity="0.05" filter="url(#g5)"/>
<ellipse cx="10" cy="20" rx="3" ry="3.6" fill-opacity="0.02" filter="url(#g2)"/>
<ellipse cx="24.5" cy="14" rx="10.4" ry="6.24" fill-opacity="0.22" transform="rotate(-55 24.5 14)" filter="url(#g5)"/>
<ellipse cx="24.5" cy="14" rx="6.8" ry="4.08" fill-opacity="0.22" transform="rotate(-55 24.5 14)" filter="url(#g3)"/>
<ellipse cx="24.5" cy="14" rx="4.4" ry="2.64" fill-opacity="0.18" transform="rotate(-55 24.5 14)" filter="url(#g2)"/>
<ellipse cx="24.5" cy="14" rx="2.4" ry="1.44" fill-opacity="0.09" transform="rotate(-55 24.5 14)" filter="url(#g0)"/>
<ellipse cx="23.5" cy="15.3" rx="5.2" ry="3.38" fill-opacity="0.3" transform="rotate(-55 23.5 15.3)" filter="url(#g3)"/>
<ellipse cx="23.5" cy="15.3" rx="3.4" ry="2.21" fill-opacity="0.34" transform="rotate(-55 23.5 15.3)" filter="url(#g1)"/>
<ellipse cx="23.5" cy="15.3" rx="2.2" ry="1.43" fill-opacity="0.33" transform="rotate(-55 23.5 15.3)" filter="url(#g0)"/>
<ellipse cx="23.5" cy="15.3" rx="1.2" ry="0.78" fill-opacity="0.19" transform="rotate(-55 23.5 15.3)" filter="url(#g0)"/>
<ellipse cx="11" cy="41" rx="13" ry="18.2" fill-opacity="0.2" filter="url(#g9)"/>
<ellipse cx="11" cy="41" rx="8.5" ry="11.9" fill-opacity="0.2" filter="url(#g7)"/>
<ellipse cx="11" cy="41" rx="5.5" ry="7.7" fill-opacity="0.16" filter="url(#g5)"/>
<ellipse cx="11" cy="41" rx="3" ry="4.2" fill-opacity="0.07" filter="url(#g2)"/>
<ellipse cx="13" cy="37.5" rx="8.45" ry="11.05" fill-opacity="0.36" filter="url(#g7)"/>
<ellipse cx="13" cy="37.5" rx="5.52" ry="7.22" fill-opacity="0.45" filter="url(#g5)"/>
<ellipse cx="13" cy="37.5" rx="3.58" ry="4.68" fill-opacity="0.51" filter="url(#g3)"/>
<ellipse cx="13" cy="37.5" rx="1.95" ry="2.55" fill-opacity="0.42" filter="url(#g1)"/>
<ellipse cx="13" cy="52" rx="6.5" ry="6.5" fill-opacity="0.12" filter="url(#g6)"/>
<ellipse cx="13" cy="52" rx="4.25" ry="4.25" fill-opacity="0.11" filter="url(#g4)"/>
<ellipse cx="13" cy="52" rx="2.75" ry="2.75" fill-opacity="0.08" filter="url(#g2)"/>
<ellipse cx="13" cy="52" rx="1.5" ry="1.5" fill-opacity="0.03" filter="url(#g0)"/>
</g>
<rect x="18.3" y="0.4" width="16.7" height="21.7" fill="none" stroke="#d92525" stroke-width="1.1"/>
</svg>
<rect x="190.6" y="241.5" width="57.1" height="57.1" fill="none" stroke="#777" stroke-width="0.9"/>
<path d="M190.6 241.5V298.6H247.7" fill="none" stroke="#333" stroke-width="1"/>
<path d="M187.6 247.1H190.6M196.2 298.6V301.2M187.6 258.45H190.6M207.55 298.6V301.2M187.6 269.8H190.6M218.9 298.6V301.2M187.6 281.15H190.6M230.25 298.6V301.2M187.6 292.5H190.6M241.6 298.6V301.2" stroke="#222" stroke-width="0.9"/>
<text x="185.2" y="249.5" font-size="6.8" text-anchor="end">10<tspan dy="-3.5" font-size="4.3">5</tspan></text>
<text x="196.6" y="310.1" font-size="6.8" text-anchor="middle">10<tspan dy="-3.5" font-size="4.3">1</tspan></text>
<text x="185.2" y="260.85" font-size="6.8" text-anchor="end">10<tspan dy="-3.5" font-size="4.3">4</tspan></text>
<text x="207.95" y="310.1" font-size="6.8" text-anchor="middle">10<tspan dy="-3.5" font-size="4.3">2</tspan></text>
<text x="185.2" y="272.2" font-size="6.8" text-anchor="end">10<tspan dy="-3.5" font-size="4.3">3</tspan></text>
<text x="219.3" y="310.1" font-size="6.8" text-anchor="middle">10<tspan dy="-3.5" font-size="4.3">3</tspan></text>
<text x="185.2" y="283.55" font-size="6.8" text-anchor="end">10<tspan dy="-3.5" font-size="4.3">2</tspan></text>
<text x="230.65" y="310.1" font-size="6.8" text-anchor="middle">10<tspan dy="-3.5" font-size="4.3">4</tspan></text>
<text x="185.2" y="294.9" font-size="6.8" text-anchor="end">10<tspan dy="-3.5" font-size="4.3">1</tspan></text>
<text x="242" y="310.1" font-size="6.8" text-anchor="middle">10<tspan dy="-3.5" font-size="4.3">5</tspan></text>
<svg x="266.6" y="241.5" width="57.1" height="57.1" overflow="hidden">
<g filter="url(#cm)">
<ellipse cx="11" cy="29" rx="14.3" ry="28.6" fill-opacity="0.05" filter="url(#g10)"/>
<ellipse cx="11" cy="29" rx="9.35" ry="18.7" fill-opacity="0.04" filter="url(#g7)"/>
<ellipse cx="11" cy="29" rx="6.05" ry="12.1" fill-opacity="0.03" filter="url(#g5)"/>
<ellipse cx="11" cy="29" rx="3.3" ry="6.6" fill-opacity="0.01" filter="url(#g3)"/>
<ellipse cx="11" cy="30" rx="9" ry="19" fill-opacity="0.31" filter="url(#b4)"/>
<ellipse cx="12.5" cy="32" rx="7.8" ry="13" fill-opacity="0.17" filter="url(#g6)"/>
<ellipse cx="12.5" cy="32" rx="5.1" ry="8.5" fill-opacity="0.16" filter="url(#g4)"/>
<ellipse cx="12.5" cy="32" rx="3.3" ry="5.5" fill-opacity="0.12" filter="url(#g3)"/>
<ellipse cx="12.5" cy="32" rx="1.8" ry="3" fill-opacity="0.05" filter="url(#g1)"/>
<ellipse cx="25" cy="14" rx="5.2" ry="6.5" fill-opacity="0.02" filter="url(#g5)"/>
<ellipse cx="25" cy="14" rx="3.4" ry="4.25" fill-opacity="0.02" filter="url(#g3)"/>
<ellipse cx="25" cy="14" rx="2.2" ry="2.75" fill-opacity="0.01" filter="url(#g1)"/>
<ellipse cx="25" cy="14" rx="1.2" ry="1.5" fill-opacity="0" filter="url(#g0)"/>
</g>
<rect x="18.9" y="0.4" width="16.9" height="21.9" fill="none" stroke="#d92525" stroke-width="1.1"/>
</svg>
<rect x="266.6" y="241.5" width="57.1" height="57.1" fill="none" stroke="#777" stroke-width="0.9"/>
<path d="M266.6 241.5V298.6H323.7" fill="none" stroke="#333" stroke-width="1"/>
<path d="M263.6 247.1H266.6M272.2 298.6V301.2M263.6 258.45H266.6M283.55 298.6V301.2M263.6 269.8H266.6M294.9 298.6V301.2M263.6 281.15H266.6M306.25 298.6V301.2M263.6 292.5H266.6M317.6 298.6V301.2" stroke="#222" stroke-width="0.9"/>
<text x="261.2" y="249.5" font-size="6.8" text-anchor="end">10<tspan dy="-3.5" font-size="4.3">5</tspan></text>
<text x="272.6" y="310.1" font-size="6.8" text-anchor="middle">10<tspan dy="-3.5" font-size="4.3">1</tspan></text>
<text x="261.2" y="260.85" font-size="6.8" text-anchor="end">10<tspan dy="-3.5" font-size="4.3">4</tspan></text>
<text x="283.95" y="310.1" font-size="6.8" text-anchor="middle">10<tspan dy="-3.5" font-size="4.3">2</tspan></text>
<text x="261.2" y="272.2" font-size="6.8" text-anchor="end">10<tspan dy="-3.5" font-size="4.3">3</tspan></text>
<text x="295.3" y="310.1" font-size="6.8" text-anchor="middle">10<tspan dy="-3.5" font-size="4.3">3</tspan></text>
<text x="261.2" y="283.55" font-size="6.8" text-anchor="end">10<tspan dy="-3.5" font-size="4.3">2</tspan></text>
<text x="306.65" y="310.1" font-size="6.8" text-anchor="middle">10<tspan dy="-3.5" font-size="4.3">4</tspan></text>
<text x="261.2" y="294.9" font-size="6.8" text-anchor="end">10<tspan dy="-3.5" font-size="4.3">1</tspan></text>
<text x="318" y="310.1" font-size="6.8" text-anchor="middle">10<tspan dy="-3.5" font-size="4.3">5</tspan></text>
<svg x="38.4" y="342.5" width="57.1" height="57.1" overflow="hidden">
<g filter="url(#cm)">
<ellipse cx="14" cy="28" rx="16.9" ry="19.5" fill-opacity="0.1" transform="rotate(-30 14 28)" filter="url(#g10)"/>
<ellipse cx="14" cy="28" rx="11.05" ry="12.75" fill-opacity="0.09" transform="rotate(-30 14 28)" filter="url(#g8)"/>
<ellipse cx="14" cy="28" rx="7.15" ry="8.25" fill-opacity="0.06" transform="rotate(-30 14 28)" filter="url(#g6)"/>
<ellipse cx="14" cy="28" rx="3.9" ry="4.5" fill-opacity="0.03" transform="rotate(-30 14 28)" filter="url(#g3)"/>
<ellipse cx="25.5" cy="22" rx="6.5" ry="17.55" fill-opacity="0.22" transform="rotate(-8 25.5 22)" filter="url(#g6)"/>
<ellipse cx="25.5" cy="22" rx="4.25" ry="11.47" fill-opacity="0.23" transform="rotate(-8 25.5 22)" filter="url(#g4)"/>
<ellipse cx="25.5" cy="22" rx="2.75" ry="7.43" fill-opacity="0.18" transform="rotate(-8 25.5 22)" filter="url(#g2)"/>
<ellipse cx="25.5" cy="22" rx="1.5" ry="4.05" fill-opacity="0.09" transform="rotate(-8 25.5 22)" filter="url(#g0)"/>
<ellipse cx="25" cy="20" rx="4.16" ry="12.35" fill-opacity="0.35" transform="rotate(-8 25 20)" filter="url(#g4)"/>
<ellipse cx="25" cy="20" rx="2.72" ry="8.07" fill-opacity="0.43" transform="rotate(-8 25 20)" filter="url(#g2)"/>
<ellipse cx="25" cy="20" rx="1.76" ry="5.23" fill-opacity="0.48" transform="rotate(-8 25 20)" filter="url(#g1)"/>
<ellipse cx="25" cy="20" rx="0.96" ry="2.85" fill-opacity="0.37" transform="rotate(-8 25 20)" filter="url(#g0)"/>
<ellipse cx="8.5" cy="41" rx="13" ry="18.2" fill-opacity="0.23" transform="rotate(-20 8.5 41)" filter="url(#g9)"/>
<ellipse cx="8.5" cy="41" rx="8.5" ry="11.9" fill-opacity="0.24" transform="rotate(-20 8.5 41)" filter="url(#g7)"/>
<ellipse cx="8.5" cy="41" rx="5.5" ry="7.7" fill-opacity="0.2" transform="rotate(-20 8.5 41)" filter="url(#g5)"/>
<ellipse cx="8.5" cy="41" rx="3" ry="4.2" fill-opacity="0.1" transform="rotate(-20 8.5 41)" filter="url(#g2)"/>
<ellipse cx="9.5" cy="42" rx="10.4" ry="10.4" fill-opacity="0.36" filter="url(#g8)"/>
<ellipse cx="9.5" cy="42" rx="6.8" ry="6.8" fill-opacity="0.45" filter="url(#g6)"/>
<ellipse cx="9.5" cy="42" rx="4.4" ry="4.4" fill-opacity="0.51" filter="url(#g4)"/>
<ellipse cx="9.5" cy="42" rx="2.4" ry="2.4" fill-opacity="0.42" filter="url(#g1)"/>
<ellipse cx="27" cy="48" rx="5.2" ry="9.1" fill-opacity="0.06" filter="url(#g5)"/>
<ellipse cx="27" cy="48" rx="3.4" ry="5.95" fill-opacity="0.05" filter="url(#g3)"/>
<ellipse cx="27" cy="48" rx="2.2" ry="3.85" fill-opacity="0.03" filter="url(#g1)"/>
<ellipse cx="27" cy="48" rx="1.2" ry="2.1" fill-opacity="0.01" filter="url(#g0)"/>
</g>
<polygon points="18.9,8.2 30.3,6.9 33.8,38.4 22.4,39.8" fill="none" stroke="#d92525" stroke-width="1.1"/>
</svg>
<rect x="38.4" y="342.5" width="57.1" height="57.1" fill="none" stroke="#777" stroke-width="0.9"/>
<path d="M38.4 342.5V399.6H95.5" fill="none" stroke="#333" stroke-width="1"/>
<path d="M35.4 348.1H38.4M44 399.6V402.2M35.4 359.45H38.4M55.35 399.6V402.2M35.4 370.8H38.4M66.7 399.6V402.2M35.4 382.15H38.4M78.05 399.6V402.2M35.4 393.5H38.4M89.4 399.6V402.2" stroke="#222" stroke-width="0.9"/>
<text x="33" y="350.5" font-size="6.8" text-anchor="end">10<tspan dy="-3.5" font-size="4.3">5</tspan></text>
<text x="44.4" y="411.1" font-size="6.8" text-anchor="middle">10<tspan dy="-3.5" font-size="4.3">1</tspan></text>
<text x="33" y="361.85" font-size="6.8" text-anchor="end">10<tspan dy="-3.5" font-size="4.3">4</tspan></text>
<text x="55.75" y="411.1" font-size="6.8" text-anchor="middle">10<tspan dy="-3.5" font-size="4.3">2</tspan></text>
<text x="33" y="373.2" font-size="6.8" text-anchor="end">10<tspan dy="-3.5" font-size="4.3">3</tspan></text>
<text x="67.1" y="411.1" font-size="6.8" text-anchor="middle">10<tspan dy="-3.5" font-size="4.3">3</tspan></text>
<text x="33" y="384.55" font-size="6.8" text-anchor="end">10<tspan dy="-3.5" font-size="4.3">2</tspan></text>
<text x="78.45" y="411.1" font-size="6.8" text-anchor="middle">10<tspan dy="-3.5" font-size="4.3">4</tspan></text>
<text x="33" y="395.9" font-size="6.8" text-anchor="end">10<tspan dy="-3.5" font-size="4.3">1</tspan></text>
<text x="89.8" y="411.1" font-size="6.8" text-anchor="middle">10<tspan dy="-3.5" font-size="4.3">5</tspan></text>
<svg x="114.5" y="342.5" width="57.1" height="57.1" overflow="hidden">
<g filter="url(#cm)">
<ellipse cx="11" cy="38" rx="16.9" ry="22.1" fill-opacity="0.05" filter="url(#g10)"/>
<ellipse cx="11" cy="38" rx="11.05" ry="14.45" fill-opacity="0.04" filter="url(#g8)"/>
<ellipse cx="11" cy="38" rx="7.15" ry="9.35" fill-opacity="0.03" filter="url(#g6)"/>
<ellipse cx="11" cy="38" rx="3.9" ry="5.1" fill-opacity="0.01" filter="url(#g3)"/>
<ellipse cx="11" cy="38.5" rx="10" ry="14.5" fill-opacity="0.31" filter="url(#b4)"/>
<ellipse cx="12" cy="41" rx="7.8" ry="9.1" fill-opacity="0.17" filter="url(#g6)"/>
<ellipse cx="12" cy="41" rx="5.1" ry="5.95" fill-opacity="0.16" filter="url(#g4)"/>
<ellipse cx="12" cy="41" rx="3.3" ry="3.85" fill-opacity="0.12" filter="url(#g3)"/>
<ellipse cx="12" cy="41" rx="1.8" ry="2.1" fill-opacity="0.05" filter="url(#g1)"/>
<ellipse cx="27" cy="23" rx="5.2" ry="14.3" fill-opacity="0.03" transform="rotate(-8 27 23)" filter="url(#g5)"/>
<ellipse cx="27" cy="23" rx="3.4" ry="9.35" fill-opacity="0.03" transform="rotate(-8 27 23)" filter="url(#g3)"/>
<ellipse cx="27" cy="23" rx="2.2" ry="6.05" fill-opacity="0.02" transform="rotate(-8 27 23)" filter="url(#g1)"/>
<ellipse cx="27" cy="23" rx="1.2" ry="3.3" fill-opacity="0.01" transform="rotate(-8 27 23)" filter="url(#g0)"/>
</g>
<polygon points="18.9,8.2 30.3,6.9 33.8,38.4 22.4,39.8" fill="none" stroke="#d92525" stroke-width="1.1"/>
</svg>
<rect x="114.5" y="342.5" width="57.1" height="57.1" fill="none" stroke="#777" stroke-width="0.9"/>
<path d="M114.5 342.5V399.6H171.6" fill="none" stroke="#333" stroke-width="1"/>
<path d="M111.5 348.1H114.5M120.1 399.6V402.2M111.5 359.45H114.5M131.45 399.6V402.2M111.5 370.8H114.5M142.8 399.6V402.2M111.5 382.15H114.5M154.15 399.6V402.2M111.5 393.5H114.5M165.5 399.6V402.2" stroke="#222" stroke-width="0.9"/>
<text x="109.1" y="350.5" font-size="6.8" text-anchor="end">10<tspan dy="-3.5" font-size="4.3">5</tspan></text>
<text x="120.5" y="411.1" font-size="6.8" text-anchor="middle">10<tspan dy="-3.5" font-size="4.3">1</tspan></text>
<text x="109.1" y="361.85" font-size="6.8" text-anchor="end">10<tspan dy="-3.5" font-size="4.3">4</tspan></text>
<text x="131.85" y="411.1" font-size="6.8" text-anchor="middle">10<tspan dy="-3.5" font-size="4.3">2</tspan></text>
<text x="109.1" y="373.2" font-size="6.8" text-anchor="end">10<tspan dy="-3.5" font-size="4.3">3</tspan></text>
<text x="143.2" y="411.1" font-size="6.8" text-anchor="middle">10<tspan dy="-3.5" font-size="4.3">3</tspan></text>
<text x="109.1" y="384.55" font-size="6.8" text-anchor="end">10<tspan dy="-3.5" font-size="4.3">2</tspan></text>
<text x="154.55" y="411.1" font-size="6.8" text-anchor="middle">10<tspan dy="-3.5" font-size="4.3">4</tspan></text>
<text x="109.1" y="395.9" font-size="6.8" text-anchor="end">10<tspan dy="-3.5" font-size="4.3">1</tspan></text>
<text x="165.9" y="411.1" font-size="6.8" text-anchor="middle">10<tspan dy="-3.5" font-size="4.3">5</tspan></text>
<svg x="190.6" y="342.5" width="57.1" height="57.1" overflow="hidden">
<g filter="url(#cm)">
<ellipse cx="14" cy="30" rx="16.9" ry="19.5" fill-opacity="0.08" transform="rotate(-30 14 30)" filter="url(#g10)"/>
<ellipse cx="14" cy="30" rx="11.05" ry="12.75" fill-opacity="0.07" transform="rotate(-30 14 30)" filter="url(#g8)"/>
<ellipse cx="14" cy="30" rx="7.15" ry="8.25" fill-opacity="0.05" transform="rotate(-30 14 30)" filter="url(#g6)"/>
<ellipse cx="14" cy="30" rx="3.9" ry="4.5" fill-opacity="0.02" transform="rotate(-30 14 30)" filter="url(#g3)"/>
<ellipse cx="25.5" cy="21" rx="5.46" ry="16.9" fill-opacity="0.21" transform="rotate(-10 25.5 21)" filter="url(#g5)"/>
<ellipse cx="25.5" cy="21" rx="3.57" ry="11.05" fill-opacity="0.22" transform="rotate(-10 25.5 21)" filter="url(#g3)"/>
<ellipse cx="25.5" cy="21" rx="2.31" ry="7.15" fill-opacity="0.17" transform="rotate(-10 25.5 21)" filter="url(#g1)"/>
<ellipse cx="25.5" cy="21" rx="1.26" ry="3.9" fill-opacity="0.08" transform="rotate(-10 25.5 21)" filter="url(#g0)"/>
<ellipse cx="25.2" cy="20" rx="3.64" ry="13" fill-opacity="0.32" transform="rotate(-10 25.2 20)" filter="url(#g3)"/>
<ellipse cx="25.2" cy="20" rx="2.38" ry="8.5" fill-opacity="0.38" transform="rotate(-10 25.2 20)" filter="url(#g1)"/>
<ellipse cx="25.2" cy="20" rx="1.54" ry="5.5" fill-opacity="0.38" transform="rotate(-10 25.2 20)" filter="url(#g0)"/>
<ellipse cx="25.2" cy="20" rx="0.84" ry="3" fill-opacity="0.24" transform="rotate(-10 25.2 20)" filter="url(#g0)"/>
<ellipse cx="9" cy="41" rx="14.3" ry="20.8" fill-opacity="0.24" transform="rotate(-15 9 41)" filter="url(#g10)"/>
<ellipse cx="9" cy="41" rx="9.35" ry="13.6" fill-opacity="0.25" transform="rotate(-15 9 41)" filter="url(#g7)"/>
<ellipse cx="9" cy="41" rx="6.05" ry="8.8" fill-opacity="0.21" transform="rotate(-15 9 41)" filter="url(#g5)"/>
<ellipse cx="9" cy="41" rx="3.3" ry="4.8" fill-opacity="0.11" transform="rotate(-15 9 41)" filter="url(#g3)"/>
<ellipse cx="9.5" cy="43.5" rx="11.05" ry="10.4" fill-opacity="0.37" filter="url(#g8)"/>
<ellipse cx="9.5" cy="43.5" rx="7.22" ry="6.8" fill-opacity="0.47" filter="url(#g6)"/>
<ellipse cx="9.5" cy="43.5" rx="4.68" ry="4.4" fill-opacity="0.56" filter="url(#g4)"/>
<ellipse cx="9.5" cy="43.5" rx="2.55" ry="2.4" fill-opacity="0.52" filter="url(#g1)"/>
<ellipse cx="27" cy="48" rx="5.2" ry="9.1" fill-opacity="0.06" filter="url(#g5)"/>
<ellipse cx="27" cy="48" rx="3.4" ry="5.95" fill-opacity="0.05" filter="url(#g3)"/>
<ellipse cx="27" cy="48" rx="2.2" ry="3.85" fill-opacity="0.03" filter="url(#g1)"/>
<ellipse cx="27" cy="48" rx="1.2" ry="2.1" fill-opacity="0.01" filter="url(#g0)"/>
</g>
<polygon points="18.9,8.2 30.3,6.9 33.8,38.4 22.4,39.8" fill="none" stroke="#d92525" stroke-width="1.1"/>
</svg>
<rect x="190.6" y="342.5" width="57.1" height="57.1" fill="none" stroke="#777" stroke-width="0.9"/>
<path d="M190.6 342.5V399.6H247.7" fill="none" stroke="#333" stroke-width="1"/>
<path d="M187.6 348.1H190.6M196.2 399.6V402.2M187.6 359.45H190.6M207.55 399.6V402.2M187.6 370.8H190.6M218.9 399.6V402.2M187.6 382.15H190.6M230.25 399.6V402.2M187.6 393.5H190.6M241.6 399.6V402.2" stroke="#222" stroke-width="0.9"/>
<text x="185.2" y="350.5" font-size="6.8" text-anchor="end">10<tspan dy="-3.5" font-size="4.3">5</tspan></text>
<text x="196.6" y="411.1" font-size="6.8" text-anchor="middle">10<tspan dy="-3.5" font-size="4.3">1</tspan></text>
<text x="185.2" y="361.85" font-size="6.8" text-anchor="end">10<tspan dy="-3.5" font-size="4.3">4</tspan></text>
<text x="207.95" y="411.1" font-size="6.8" text-anchor="middle">10<tspan dy="-3.5" font-size="4.3">2</tspan></text>
<text x="185.2" y="373.2" font-size="6.8" text-anchor="end">10<tspan dy="-3.5" font-size="4.3">3</tspan></text>
<text x="219.3" y="411.1" font-size="6.8" text-anchor="middle">10<tspan dy="-3.5" font-size="4.3">3</tspan></text>
<text x="185.2" y="384.55" font-size="6.8" text-anchor="end">10<tspan dy="-3.5" font-size="4.3">2</tspan></text>
<text x="230.65" y="411.1" font-size="6.8" text-anchor="middle">10<tspan dy="-3.5" font-size="4.3">4</tspan></text>
<text x="185.2" y="395.9" font-size="6.8" text-anchor="end">10<tspan dy="-3.5" font-size="4.3">1</tspan></text>
<text x="242" y="411.1" font-size="6.8" text-anchor="middle">10<tspan dy="-3.5" font-size="4.3">5</tspan></text>
<svg x="266.6" y="342.5" width="57.1" height="57.1" overflow="hidden">
<g filter="url(#cm)">
<ellipse cx="11.5" cy="37" rx="16.9" ry="23.4" fill-opacity="0.05" filter="url(#g10)"/>
<ellipse cx="11.5" cy="37" rx="11.05" ry="15.3" fill-opacity="0.04" filter="url(#g8)"/>
<ellipse cx="11.5" cy="37" rx="7.15" ry="9.9" fill-opacity="0.03" filter="url(#g6)"/>
<ellipse cx="11.5" cy="37" rx="3.9" ry="5.4" fill-opacity="0.01" filter="url(#g3)"/>
<ellipse cx="11.5" cy="37.5" rx="10" ry="15" fill-opacity="0.31" filter="url(#b4)"/>
<ellipse cx="12.5" cy="40" rx="7.8" ry="9.1" fill-opacity="0.17" filter="url(#g6)"/>
<ellipse cx="12.5" cy="40" rx="5.1" ry="5.95" fill-opacity="0.16" filter="url(#g4)"/>
<ellipse cx="12.5" cy="40" rx="3.3" ry="3.85" fill-opacity="0.12" filter="url(#g3)"/>
<ellipse cx="12.5" cy="40" rx="1.8" ry="2.1" fill-opacity="0.05" filter="url(#g1)"/>
<ellipse cx="27" cy="24" rx="5.2" ry="14.3" fill-opacity="0.03" transform="rotate(-8 27 24)" filter="url(#g5)"/>
<ellipse cx="27" cy="24" rx="3.4" ry="9.35" fill-opacity="0.03" transform="rotate(-8 27 24)" filter="url(#g3)"/>
<ellipse cx="27" cy="24" rx="2.2" ry="6.05" fill-opacity="0.02" transform="rotate(-8 27 24)" filter="url(#g1)"/>
<ellipse cx="27" cy="24" rx="1.2" ry="3.3" fill-opacity="0.01" transform="rotate(-8 27 24)" filter="url(#g0)"/>
</g>
<polygon points="18.9,8.2 30.3,6.9 33.8,38.4 22.4,39.8" fill="none" stroke="#d92525" stroke-width="1.1"/>
</svg>
<rect x="266.6" y="342.5" width="57.1" height="57.1" fill="none" stroke="#777" stroke-width="0.9"/>
<path d="M266.6 342.5V399.6H323.7" fill="none" stroke="#333" stroke-width="1"/>
<path d="M263.6 348.1H266.6M272.2 399.6V402.2M263.6 359.45H266.6M283.55 399.6V402.2M263.6 370.8H266.6M294.9 399.6V402.2M263.6 382.15H266.6M306.25 399.6V402.2M263.6 393.5H266.6M317.6 399.6V402.2" stroke="#222" stroke-width="0.9"/>
<text x="261.2" y="350.5" font-size="6.8" text-anchor="end">10<tspan dy="-3.5" font-size="4.3">5</tspan></text>
<text x="272.6" y="411.1" font-size="6.8" text-anchor="middle">10<tspan dy="-3.5" font-size="4.3">1</tspan></text>
<text x="261.2" y="361.85" font-size="6.8" text-anchor="end">10<tspan dy="-3.5" font-size="4.3">4</tspan></text>
<text x="283.95" y="411.1" font-size="6.8" text-anchor="middle">10<tspan dy="-3.5" font-size="4.3">2</tspan></text>
<text x="261.2" y="373.2" font-size="6.8" text-anchor="end">10<tspan dy="-3.5" font-size="4.3">3</tspan></text>
<text x="295.3" y="411.1" font-size="6.8" text-anchor="middle">10<tspan dy="-3.5" font-size="4.3">3</tspan></text>
<text x="261.2" y="384.55" font-size="6.8" text-anchor="end">10<tspan dy="-3.5" font-size="4.3">2</tspan></text>
<text x="306.65" y="411.1" font-size="6.8" text-anchor="middle">10<tspan dy="-3.5" font-size="4.3">4</tspan></text>
<text x="261.2" y="395.9" font-size="6.8" text-anchor="end">10<tspan dy="-3.5" font-size="4.3">1</tspan></text>
<text x="318" y="411.1" font-size="6.8" text-anchor="middle">10<tspan dy="-3.5" font-size="4.3">5</tspan></text>
<svg x="38.4" y="445" width="57.1" height="57.1" overflow="hidden">
<g filter="url(#cm)">
<path d="M-2 17 Q14 14 24 12.8 Q30 12.8 36 14.5 Q44 15.5 48 18 L49 25 Q52 35 49 44 Q45 53 37 59 L11 59 Q3 54 -2 47 Z" fill-opacity="0.5" filter="url(#b2)"/>
<ellipse cx="1" cy="56" rx="4" ry="4" fill-opacity="0.15" filter="url(#b4)"/>
<ellipse cx="50" cy="54" rx="5" ry="6" fill-opacity="0.15" filter="url(#b4)"/>
<ellipse cx="26" cy="12" rx="22" ry="3" fill-opacity="0.08" filter="url(#b3)"/>
</g>
<rect x="-0.3" y="7.3" width="56.2" height="19" fill="none" stroke="#d92525" stroke-width="1.1"/>
</svg>
<rect x="38.4" y="445" width="57.1" height="57.1" fill="none" stroke="#777" stroke-width="0.9"/>
<path d="M38.4 445V502.1H95.5" fill="none" stroke="#333" stroke-width="1"/>
<path d="M35.4 450.6H38.4M44 502.1V504.7M35.4 461.95H38.4M55.35 502.1V504.7M35.4 473.3H38.4M66.7 502.1V504.7M35.4 484.65H38.4M78.05 502.1V504.7M35.4 496H38.4M89.4 502.1V504.7" stroke="#222" stroke-width="0.9"/>
<text x="33" y="453" font-size="6.8" text-anchor="end">10<tspan dy="-3.5" font-size="4.3">5</tspan></text>
<text x="44.4" y="513.6" font-size="6.8" text-anchor="middle">10<tspan dy="-3.5" font-size="4.3">1</tspan></text>
<text x="33" y="464.35" font-size="6.8" text-anchor="end">10<tspan dy="-3.5" font-size="4.3">4</tspan></text>
<text x="55.75" y="513.6" font-size="6.8" text-anchor="middle">10<tspan dy="-3.5" font-size="4.3">2</tspan></text>
<text x="33" y="475.7" font-size="6.8" text-anchor="end">10<tspan dy="-3.5" font-size="4.3">3</tspan></text>
<text x="67.1" y="513.6" font-size="6.8" text-anchor="middle">10<tspan dy="-3.5" font-size="4.3">3</tspan></text>
<text x="33" y="487.05" font-size="6.8" text-anchor="end">10<tspan dy="-3.5" font-size="4.3">2</tspan></text>
<text x="78.45" y="513.6" font-size="6.8" text-anchor="middle">10<tspan dy="-3.5" font-size="4.3">4</tspan></text>
<text x="33" y="498.4" font-size="6.8" text-anchor="end">10<tspan dy="-3.5" font-size="4.3">1</tspan></text>
<text x="89.8" y="513.6" font-size="6.8" text-anchor="middle">10<tspan dy="-3.5" font-size="4.3">5</tspan></text>
<svg x="114.5" y="445" width="57.1" height="57.1" overflow="hidden">
<g filter="url(#cm)">
<ellipse cx="25" cy="41" rx="24.7" ry="18.2" fill-opacity="0.09" filter="url(#g10)"/>
<ellipse cx="25" cy="41" rx="16.15" ry="11.9" fill-opacity="0.08" filter="url(#g9)"/>
<ellipse cx="25" cy="41" rx="10.45" ry="7.7" fill-opacity="0.05" filter="url(#g6)"/>
<ellipse cx="25" cy="41" rx="5.7" ry="4.2" fill-opacity="0.02" filter="url(#g4)"/>
<path d="M3 19 Q20 13 27 14.5 Q40 15.5 49 19 L46 24 L3 24 Z" fill-opacity="0.36" filter="url(#b2)"/>
<ellipse cx="23.5" cy="19.3" rx="11.05" ry="5.46" fill-opacity="0.36" filter="url(#g5)"/>
<ellipse cx="23.5" cy="19.3" rx="7.22" ry="3.57" fill-opacity="0.45" filter="url(#g3)"/>
<ellipse cx="23.5" cy="19.3" rx="4.68" ry="2.31" fill-opacity="0.51" filter="url(#g1)"/>
<ellipse cx="23.5" cy="19.3" rx="2.55" ry="1.26" fill-opacity="0.42" filter="url(#g0)"/>
<ellipse cx="24.5" cy="29" rx="4.16" ry="10.4" fill-opacity="0.24" filter="url(#g4)"/>
<ellipse cx="24.5" cy="29" rx="2.72" ry="6.8" fill-opacity="0.25" filter="url(#g2)"/>
<ellipse cx="24.5" cy="29" rx="1.76" ry="4.4" fill-opacity="0.21" filter="url(#g1)"/>
<ellipse cx="24.5" cy="29" rx="0.96" ry="2.4" fill-opacity="0.11" filter="url(#g0)"/>
</g>
<rect x="-0.3" y="7.3" width="56.2" height="19" fill="none" stroke="#d92525" stroke-width="1.1"/>
</svg>
<rect x="114.5" y="445" width="57.1" height="57.1" fill="none" stroke="#777" stroke-width="0.9"/>
<path d="M114.5 445V502.1H171.6" fill="none" stroke="#333" stroke-width="1"/>
<path d="M111.5 450.6H114.5M120.1 502.1V504.7M111.5 461.95H114.5M131.45 502.1V504.7M111.5 473.3H114.5M142.8 502.1V504.7M111.5 484.65H114.5M154.15 502.1V504.7M111.5 496H114.5M165.5 502.1V504.7" stroke="#222" stroke-width="0.9"/>
<text x="109.1" y="453" font-size="6.8" text-anchor="end">10<tspan dy="-3.5" font-size="4.3">5</tspan></text>
<text x="120.5" y="513.6" font-size="6.8" text-anchor="middle">10<tspan dy="-3.5" font-size="4.3">1</tspan></text>
<text x="109.1" y="464.35" font-size="6.8" text-anchor="end">10<tspan dy="-3.5" font-size="4.3">4</tspan></text>
<text x="131.85" y="513.6" font-size="6.8" text-anchor="middle">10<tspan dy="-3.5" font-size="4.3">2</tspan></text>
<text x="109.1" y="475.7" font-size="6.8" text-anchor="end">10<tspan dy="-3.5" font-size="4.3">3</tspan></text>
<text x="143.2" y="513.6" font-size="6.8" text-anchor="middle">10<tspan dy="-3.5" font-size="4.3">3</tspan></text>
<text x="109.1" y="487.05" font-size="6.8" text-anchor="end">10<tspan dy="-3.5" font-size="4.3">2</tspan></text>
<text x="154.55" y="513.6" font-size="6.8" text-anchor="middle">10<tspan dy="-3.5" font-size="4.3">4</tspan></text>
<text x="109.1" y="498.4" font-size="6.8" text-anchor="end">10<tspan dy="-3.5" font-size="4.3">1</tspan></text>
<text x="165.9" y="513.6" font-size="6.8" text-anchor="middle">10<tspan dy="-3.5" font-size="4.3">5</tspan></text>
<svg x="190.6" y="445" width="57.1" height="57.1" overflow="hidden">
<g filter="url(#cm)">
<ellipse cx="26" cy="38" rx="28" ry="22" fill-opacity="0.12" filter="url(#b4)"/>
<path d="M1 19 Q14 15 24 13.5 Q32 13.5 40 15 Q47 16 50 18.5 L50 25 L1 25 Z" fill-opacity="0.44" filter="url(#b2)"/>
<ellipse cx="26" cy="42" rx="23" ry="15" fill-opacity="0.44" filter="url(#b4)"/>
<ellipse cx="24" cy="40" rx="5" ry="14" fill-opacity="0.06" filter="url(#b3)"/>
</g>
<rect x="-0.3" y="7.3" width="56.2" height="19" fill="none" stroke="#d92525" stroke-width="1.1"/>
</svg>
<rect x="190.6" y="445" width="57.1" height="57.1" fill="none" stroke="#777" stroke-width="0.9"/>
<path d="M190.6 445V502.1H247.7" fill="none" stroke="#333" stroke-width="1"/>
<path d="M187.6 450.6H190.6M196.2 502.1V504.7M187.6 461.95H190.6M207.55 502.1V504.7M187.6 473.3H190.6M218.9 502.1V504.7M187.6 484.65H190.6M230.25 502.1V504.7M187.6 496H190.6M241.6 502.1V504.7" stroke="#222" stroke-width="0.9"/>
<text x="185.2" y="453" font-size="6.8" text-anchor="end">10<tspan dy="-3.5" font-size="4.3">5</tspan></text>
<text x="196.6" y="513.6" font-size="6.8" text-anchor="middle">10<tspan dy="-3.5" font-size="4.3">1</tspan></text>
<text x="185.2" y="464.35" font-size="6.8" text-anchor="end">10<tspan dy="-3.5" font-size="4.3">4</tspan></text>
<text x="207.95" y="513.6" font-size="6.8" text-anchor="middle">10<tspan dy="-3.5" font-size="4.3">2</tspan></text>
<text x="185.2" y="475.7" font-size="6.8" text-anchor="end">10<tspan dy="-3.5" font-size="4.3">3</tspan></text>
<text x="219.3" y="513.6" font-size="6.8" text-anchor="middle">10<tspan dy="-3.5" font-size="4.3">3</tspan></text>
<text x="185.2" y="487.05" font-size="6.8" text-anchor="end">10<tspan dy="-3.5" font-size="4.3">2</tspan></text>
<text x="230.65" y="513.6" font-size="6.8" text-anchor="middle">10<tspan dy="-3.5" font-size="4.3">4</tspan></text>
<text x="185.2" y="498.4" font-size="6.8" text-anchor="end">10<tspan dy="-3.5" font-size="4.3">1</tspan></text>
<text x="242" y="513.6" font-size="6.8" text-anchor="middle">10<tspan dy="-3.5" font-size="4.3">5</tspan></text>
<svg x="266.6" y="445" width="57.1" height="57.1" overflow="hidden">
<g filter="url(#cm)">
<ellipse cx="30" cy="38" rx="26" ry="16.9" fill-opacity="0.12" filter="url(#g10)"/>
<ellipse cx="30" cy="38" rx="17" ry="11.05" fill-opacity="0.11" filter="url(#g8)"/>
<ellipse cx="30" cy="38" rx="11" ry="7.15" fill-opacity="0.08" filter="url(#g6)"/>
<ellipse cx="30" cy="38" rx="6" ry="3.9" fill-opacity="0.03" filter="url(#g3)"/>
<ellipse cx="20" cy="32" rx="5.2" ry="9.1" fill-opacity="0.12" filter="url(#g5)"/>
<ellipse cx="20" cy="32" rx="3.4" ry="5.95" fill-opacity="0.11" filter="url(#g3)"/>
<ellipse cx="20" cy="32" rx="2.2" ry="3.85" fill-opacity="0.08" filter="url(#g1)"/>
<ellipse cx="20" cy="32" rx="1.2" ry="2.1" fill-opacity="0.03" filter="url(#g0)"/>
<ellipse cx="46" cy="32" rx="5.2" ry="10.4" fill-opacity="0.12" filter="url(#g5)"/>
<ellipse cx="46" cy="32" rx="3.4" ry="6.8" fill-opacity="0.11" filter="url(#g3)"/>
<ellipse cx="46" cy="32" rx="2.2" ry="4.4" fill-opacity="0.08" filter="url(#g1)"/>
<ellipse cx="46" cy="32" rx="1.2" ry="2.4" fill-opacity="0.03" filter="url(#g0)"/>
<path d="M11 21 Q20 15 30 15 L48 14 L50 24 L12 25 Z" fill-opacity="0.45" filter="url(#b2)"/>
<ellipse cx="34" cy="19.5" rx="22.1" ry="4.68" fill-opacity="0.36" transform="rotate(-3 34 19.5)" filter="url(#g4)"/>
<ellipse cx="34" cy="19.5" rx="14.45" ry="3.06" fill-opacity="0.45" transform="rotate(-3 34 19.5)" filter="url(#g2)"/>
<ellipse cx="34" cy="19.5" rx="9.35" ry="1.98" fill-opacity="0.51" transform="rotate(-3 34 19.5)" filter="url(#g1)"/>
<ellipse cx="34" cy="19.5" rx="5.1" ry="1.08" fill-opacity="0.42" transform="rotate(-3 34 19.5)" filter="url(#g0)"/>
</g>
<rect x="-0.3" y="7.3" width="56.2" height="19" fill="none" stroke="#d92525" stroke-width="1.1"/>
</svg>
<rect x="266.6" y="445" width="57.1" height="57.1" fill="none" stroke="#777" stroke-width="0.9"/>
<path d="M266.6 445V502.1H323.7" fill="none" stroke="#333" stroke-width="1"/>
<path d="M263.6 450.6H266.6M272.2 502.1V504.7M263.6 461.95H266.6M283.55 502.1V504.7M263.6 473.3H266.6M294.9 502.1V504.7M263.6 484.65H266.6M306.25 502.1V504.7M263.6 496H266.6M317.6 502.1V504.7" stroke="#222" stroke-width="0.9"/>
<text x="261.2" y="453" font-size="6.8" text-anchor="end">10<tspan dy="-3.5" font-size="4.3">5</tspan></text>
<text x="272.6" y="513.6" font-size="6.8" text-anchor="middle">10<tspan dy="-3.5" font-size="4.3">1</tspan></text>
<text x="261.2" y="464.35" font-size="6.8" text-anchor="end">10<tspan dy="-3.5" font-size="4.3">4</tspan></text>
<text x="283.95" y="513.6" font-size="6.8" text-anchor="middle">10<tspan dy="-3.5" font-size="4.3">2</tspan></text>
<text x="261.2" y="475.7" font-size="6.8" text-anchor="end">10<tspan dy="-3.5" font-size="4.3">3</tspan></text>
<text x="295.3" y="513.6" font-size="6.8" text-anchor="middle">10<tspan dy="-3.5" font-size="4.3">3</tspan></text>
<text x="261.2" y="487.05" font-size="6.8" text-anchor="end">10<tspan dy="-3.5" font-size="4.3">2</tspan></text>
<text x="306.65" y="513.6" font-size="6.8" text-anchor="middle">10<tspan dy="-3.5" font-size="4.3">4</tspan></text>
<text x="261.2" y="498.4" font-size="6.8" text-anchor="end">10<tspan dy="-3.5" font-size="4.3">1</tspan></text>
<text x="318" y="513.6" font-size="6.8" text-anchor="middle">10<tspan dy="-3.5" font-size="4.3">5</tspan></text>
<text x="7.2" y="35.8" font-size="11.8" font-weight="bold">A</text>
<text x="7.2" y="137.1" font-size="11.8" font-weight="bold">B</text>
<text x="7.2" y="237.9" font-size="11.8" font-weight="bold">C</text>
<text x="7.2" y="339.4" font-size="11.8" font-weight="bold">D</text>
<text x="7.2" y="441.2" font-size="11.8" font-weight="bold">E</text>
<text x="339.3" y="35.4" font-size="11.8" font-weight="bold">F</text>
<text x="338.9" y="176.3" font-size="11.8" font-weight="bold">G</text>
<text x="339.3" y="316" font-size="11.8" font-weight="bold">H</text>
<text x="179.6" y="12.7" font-size="6.3" text-anchor="middle">3q21q26-tdTomato (Tom)</text>
<path d="M35.2 15.4H323.8" stroke="#333" stroke-width="0.9"/>
<path d="M35.2 26.9H171.7M188.1 26.9H323.8" stroke="#6e6e6e" stroke-width="1.5"/>
<text x="103.5" y="23.8" font-size="6.3" text-anchor="middle"><tspan font-style="italic">Gata2</tspan> +/gfp</text>
<text x="256" y="23.8" font-size="6.3" text-anchor="middle">3q21q26-<tspan font-style="italic">EVI1</tspan>::<tspan font-style="italic">Gata2</tspan> +/gfp</text>
<text x="66.8" y="35.3" font-size="6.3" text-anchor="middle">Negative/Low</text>
<text x="142.9" y="35.3" font-size="6.3" text-anchor="middle">High</text>
<text x="218.8" y="35.3" font-size="6.3" text-anchor="middle">Negative/Low</text>
<text x="295.1" y="35.3" font-size="6.3" text-anchor="middle">High</text>
<text x="32.9" y="136.5" font-size="6.3">CD3&#8722;B220&#8722; gated</text>
<text x="39.7" y="149.8" font-size="6.3" fill="#d03232">Monocytes</text>
<text x="61.6" y="164.6" font-size="6.35" fill="#d03232">Neutrophils</text>
<text x="75.2" y="248.8" font-size="6.45" fill="#d03232">B cells</text>
<text x="74.05" y="339.1" font-size="6.3" text-anchor="middle" fill="#d03232">Erythrocytes</text>
<text x="45.4" y="451.7" font-size="6.7" fill="#d03232">HSPC</text>
<text x="81.1" y="76" font-size="6.7" fill="#d03232">Mk</text>
<path d="M19.4 91.7V111.5H39" fill="none" stroke="#111" stroke-width="1.1"/>
<path d="M17.2 92.9L19.4 87.7L21.6 92.9Z" fill="#111"/>
<path d="M37.9 109.4L43.1 111.5L37.9 113.6Z" fill="#111"/>
<text transform="translate(15 99.25) rotate(-90) scale(0.6 1)" font-size="8.9" font-weight="bold" text-anchor="middle">CD61</text>
<text transform="translate(31.5 121.5) scale(0.6 1)" font-size="8.9" font-weight="bold" text-anchor="middle">CD41</text>
<path d="M19.4 191.4V212.6H39" fill="none" stroke="#111" stroke-width="1.1"/>
<path d="M17.2 192.6L19.4 187.4L21.6 192.6Z" fill="#111"/>
<path d="M37.9 210.5L43.1 212.6L37.9 214.7Z" fill="#111"/>
<text transform="translate(15 199.75) rotate(-90) scale(0.6 1)" font-size="8.9" font-weight="bold" text-anchor="middle">CD115</text>
<text transform="translate(31.5 223.3) scale(0.6 1)" font-size="8.9" font-weight="bold" text-anchor="middle">Ly6G</text>
<path d="M19.4 291.4V313.7H39" fill="none" stroke="#111" stroke-width="1.1"/>
<path d="M17.2 292.6L19.4 287.4L21.6 292.6Z" fill="#111"/>
<path d="M37.9 311.6L43.1 313.7L37.9 315.8Z" fill="#111"/>
<text transform="translate(15 300.5) rotate(-90) scale(0.6 1)" font-size="8.9" font-weight="bold" text-anchor="middle">B220</text>
<text transform="translate(31.5 323.7) scale(0.6 1)" font-size="8.9" font-weight="bold" text-anchor="middle">CD19</text>
<path d="M19.4 395V415.2H39" fill="none" stroke="#111" stroke-width="1.1"/>
<path d="M17.2 396.2L19.4 391L21.6 396.2Z" fill="#111"/>
<path d="M37.9 413.1L43.1 415.2L37.9 417.3Z" fill="#111"/>
<text transform="translate(15 403.25) rotate(-90) scale(0.6 1)" font-size="8.9" font-weight="bold" text-anchor="middle">CD71</text>
<text transform="translate(31.5 426) scale(0.6 1)" font-size="8.9" font-weight="bold" text-anchor="middle">Ter119</text>
<path d="M19.4 497.3V517.3H39" fill="none" stroke="#111" stroke-width="1.1"/>
<path d="M17.2 498.5L19.4 493.3L21.6 498.5Z" fill="#111"/>
<path d="M37.9 515.2L43.1 517.3L37.9 519.4Z" fill="#111"/>
<text transform="translate(15 504.75) rotate(-90) scale(0.6 1)" font-size="8.9" font-weight="bold" text-anchor="middle">c-Kit</text>
<text transform="translate(31.5 527.9) scale(0.6 1)" font-size="8.9" font-weight="bold" text-anchor="middle">Sca1</text>
<text x="441" y="46" font-size="8.5" text-anchor="middle" fill="#111">High population</text>
<path d="M369.1 51.2V125.8H513.3" fill="none" stroke="#333" stroke-width="1.6"/>
<text x="363.5" y="127.9" font-size="6" text-anchor="end" fill="#222">0</text>
<text x="363.5" y="113.5" font-size="6" text-anchor="end" fill="#222">5</text>
<text x="363.5" y="99.1" font-size="6" text-anchor="end" fill="#222">10</text>
<text x="363.5" y="84.7" font-size="6" text-anchor="end" fill="#222">15</text>
<text x="363.5" y="70.3" font-size="6" text-anchor="end" fill="#222">20</text>
<text x="363.5" y="55.9" font-size="6" text-anchor="end" fill="#222">25</text>
<path d="M366.5 125.8H369.1M366.5 111.4H369.1M366.5 97H369.1M366.5 82.6H369.1M366.5 68.2H369.1M366.5 53.8H369.1" stroke="#333" stroke-width="0.9"/>
<text transform="translate(350.8 89) rotate(-90) scale(0.6 1)" font-size="9.2" font-weight="bold" text-anchor="middle" fill="#111">Cell population (%)</text>
<path d="M378.1 125.8V128.6M392.5 125.8V128.6M405.8 125.8V128.6M420.2 125.8V128.6M433.5 125.8V128.6M447.9 125.8V128.6M461.3 125.8V128.6M475.8 125.8V128.6M489.2 125.8V128.6M503.7 125.8V128.6" stroke="#333" stroke-width="0.9"/>
<text x="378.1" y="137.8" font-size="6.3" text-anchor="middle" fill="#111">1</text>
<text x="392.5" y="137.8" font-size="6.3" text-anchor="middle" fill="#111">2</text>
<text x="405.8" y="137.8" font-size="6.3" text-anchor="middle" fill="#111">1</text>
<text x="420.2" y="137.8" font-size="6.3" text-anchor="middle" fill="#111">2</text>
<text x="433.5" y="137.8" font-size="6.3" text-anchor="middle" fill="#111">1</text>
<text x="447.9" y="137.8" font-size="6.3" text-anchor="middle" fill="#111">2</text>
<text x="461.3" y="137.8" font-size="6.3" text-anchor="middle" fill="#111">1</text>
<text x="475.8" y="137.8" font-size="6.3" text-anchor="middle" fill="#111">2</text>
<text x="489.2" y="137.8" font-size="6.3" text-anchor="middle" fill="#111">1</text>
<text x="503.7" y="137.8" font-size="6.3" text-anchor="middle" fill="#111">2</text>
<path d="M375.6 140.6H394.4" stroke="#222" stroke-width="0.9"/>
<text x="385" y="148.7" font-size="6.2" text-anchor="middle" fill="#111">Mono</text>
<path d="M403.5 140.6H422" stroke="#222" stroke-width="0.9"/>
<text x="412.75" y="148.7" font-size="6.2" text-anchor="middle" fill="#111">Neu</text>
<path d="M431.5 140.6H449.8" stroke="#222" stroke-width="0.9"/>
<text x="440.65" y="148.7" font-size="6.2" text-anchor="middle" fill="#111">B</text>
<path d="M459.4 140.6H477.7" stroke="#222" stroke-width="0.9"/>
<text x="468.55" y="148.7" font-size="6.2" text-anchor="middle" fill="#111">Ery</text>
<path d="M487.3 140.6H505.6" stroke="#222" stroke-width="0.9"/>
<text x="496.45" y="148.7" font-size="6.2" text-anchor="middle" fill="#111">Mk</text>
<text x="377.3" y="63.3" font-size="5.4" fill="#222">1</text>
<circle cx="385.4" cy="61.3" r="2.5" fill="#5aaa3a"/>
<text x="390.9" y="63.3" font-size="5.45" fill="#222"><tspan font-style="italic">Gata2</tspan> +/gfp::Tom</text>
<text x="377.3" y="77.2" font-size="5.4" fill="#222">2</text>
<circle cx="385.4" cy="75.2" r="2.5" fill="#1f3c8c"/>
<text x="390.9" y="77.2" font-size="5.45" fill="#222">3q21q26-<tspan font-style="italic">EVI1</tspan>::<tspan font-style="italic">Gata2</tspan> +/gfp::Tom</text>
<circle cx="376.4" cy="119.5" r="1.45" fill="#5aaa3a"/>
<circle cx="379.8" cy="119.5" r="1.45" fill="#5aaa3a"/>
<circle cx="378.1" cy="117" r="1.45" fill="#5aaa3a"/>
<circle cx="378.1" cy="122.4" r="1.45" fill="#5aaa3a"/>
<path d="M375.5 119.8H380.7M378.1 117.2V122.4M375.9 117.2H380.3M375.9 122.4H380.3" stroke="#111" stroke-width="0.9" fill="none"/>
<circle cx="390.3" cy="112.2" r="1.45" fill="#1f3c8c"/>
<circle cx="396.4" cy="113.3" r="1.45" fill="#1f3c8c"/>
<circle cx="393.6" cy="116.9" r="1.45" fill="#1f3c8c"/>
<circle cx="390.3" cy="119" r="1.45" fill="#1f3c8c"/>
<path d="M388.1 115.2H396.9M392.5 112.3V118.1M390.3 112.3H394.7M390.3 118.1H394.7" stroke="#111" stroke-width="0.9" fill="none"/>
<path d="M377.8 106.6V104.6H392.7V106.6" fill="none" stroke="#222" stroke-width="0.8"/>
<text x="385.25" y="101.2" font-size="4.9" text-anchor="middle" fill="#333">n.s.</text>
<circle cx="404" cy="125.3" r="1.45" fill="#5aaa3a"/>
<circle cx="405.8" cy="125.3" r="1.45" fill="#5aaa3a"/>
<circle cx="407.6" cy="125.3" r="1.45" fill="#5aaa3a"/>
<circle cx="431.7" cy="125.3" r="1.45" fill="#5aaa3a"/>
<circle cx="433.5" cy="125.3" r="1.45" fill="#5aaa3a"/>
<circle cx="435.3" cy="125.3" r="1.45" fill="#5aaa3a"/>
<circle cx="459.5" cy="125.3" r="1.45" fill="#5aaa3a"/>
<circle cx="461.3" cy="125.3" r="1.45" fill="#5aaa3a"/>
<circle cx="463.1" cy="125.3" r="1.45" fill="#5aaa3a"/>
<circle cx="418" cy="125.1" r="1.45" fill="#1f3c8c"/>
<circle cx="420.2" cy="125.1" r="1.45" fill="#1f3c8c"/>
<circle cx="422.4" cy="125.1" r="1.45" fill="#1f3c8c"/>
<circle cx="445.7" cy="125.1" r="1.45" fill="#1f3c8c"/>
<circle cx="447.9" cy="125.1" r="1.45" fill="#1f3c8c"/>
<circle cx="450.1" cy="125.1" r="1.45" fill="#1f3c8c"/>
<circle cx="473.3" cy="125.2" r="1.45" fill="#1f3c8c"/>
<circle cx="475.3" cy="124.8" r="1.45" fill="#1f3c8c"/>
<circle cx="477.3" cy="125" r="1.45" fill="#1f3c8c"/>
<circle cx="479.3" cy="123.6" r="1.45" fill="#1f3c8c"/>
<path d="M472 124.4H479" stroke="#111" stroke-width="1.2"/>
<path d="M405.5 119.5V117.5H420.5V119.5" fill="none" stroke="#222" stroke-width="0.8"/>
<text x="413" y="114.2" font-size="4.9" text-anchor="middle" fill="#333">n.s.</text>
<path d="M433.5 119.5V117.5H448.3V119.5" fill="none" stroke="#222" stroke-width="0.8"/>
<text x="440.9" y="114.2" font-size="4.9" text-anchor="middle" fill="#333">n.s.</text>
<path d="M461.3 119.5V117.5H476.2V119.5" fill="none" stroke="#222" stroke-width="0.8"/>
<text x="468.75" y="114.2" font-size="4.9" text-anchor="middle" fill="#333">n.s.</text>
<circle cx="487.5" cy="81.3" r="1.45" fill="#5aaa3a"/>
<circle cx="492" cy="83.8" r="1.45" fill="#5aaa3a"/>
<circle cx="489.6" cy="96.2" r="1.45" fill="#5aaa3a"/>
<circle cx="489.6" cy="79.4" r="1.45" fill="#5aaa3a"/>
<path d="M485 84.8H494.2M489.6 77.1V92.3M487.4 77.1H491.8M487.4 92.3H491.8" stroke="#111" stroke-width="0.9" fill="none"/>
<circle cx="503.3" cy="65.1" r="1.45" fill="#1f3c8c"/>
<circle cx="503.3" cy="81.1" r="1.45" fill="#1f3c8c"/>
<circle cx="501.2" cy="93.5" r="1.45" fill="#1f3c8c"/>
<circle cx="505.6" cy="93.5" r="1.45" fill="#1f3c8c"/>
<path d="M498.7 83.3H507.9M503.3 69.8V96.7M501.1 69.8H505.5M501.1 96.7H505.5" stroke="#111" stroke-width="0.9" fill="none"/>
<path d="M489.2 60.7V58.3H503.8V60.7" fill="none" stroke="#222" stroke-width="0.8"/>
<text x="496.5" y="54.6" font-size="4.9" text-anchor="middle" fill="#333">n.s.</text>
<text x="392.8" y="186" font-size="8.5" text-anchor="middle" fill="#111">High population</text>
<path d="M369.3 191.5V266.2H416.5" fill="none" stroke="#333" stroke-width="1.6"/>
<text x="363.7" y="268.3" font-size="6" text-anchor="end" fill="#222">0</text>
<text x="363.7" y="253.9" font-size="6" text-anchor="end" fill="#222">20</text>
<text x="363.7" y="239.5" font-size="6" text-anchor="end" fill="#222">40</text>
<text x="363.7" y="225.1" font-size="6" text-anchor="end" fill="#222">60</text>
<text x="363.7" y="210.7" font-size="6" text-anchor="end" fill="#222">80</text>
<text x="363.7" y="196.3" font-size="6" text-anchor="end" fill="#222">100</text>
<path d="M366.7 266.2H369.3M366.7 251.8H369.3M366.7 237.4H369.3M366.7 223H369.3M366.7 208.6H369.3M366.7 194.2H369.3" stroke="#333" stroke-width="0.9"/>
<text transform="translate(347.5 229) rotate(-90) scale(0.6 1)" font-size="9.2" font-weight="bold" text-anchor="middle" fill="#111">Cell population (%)</text>
<path d="M376.2 266.2V269M387.3 266.2V269M398.3 266.2V269M409.4 266.2V269" stroke="#333" stroke-width="0.9"/>
<text x="376.2" y="278.1" font-size="6.3" text-anchor="middle" fill="#111">1</text>
<text x="387.3" y="278.1" font-size="6.3" text-anchor="middle" fill="#111">2</text>
<text x="398.3" y="278.1" font-size="6.3" text-anchor="middle" fill="#111">1</text>
<text x="409.4" y="278.1" font-size="6.3" text-anchor="middle" fill="#111">2</text>
<path d="M372.3 280.6H391.2" stroke="#222" stroke-width="0.9"/>
<text x="381.75" y="289.2" font-size="6.2" text-anchor="middle" fill="#111">LK</text>
<path d="M394.4 280.6H413" stroke="#222" stroke-width="0.9"/>
<text x="403.7" y="289.2" font-size="6.2" text-anchor="middle" fill="#111">LSK</text>
<circle cx="374.1" cy="213.3" r="1.45" fill="#5aaa3a"/>
<circle cx="378.7" cy="213.3" r="1.45" fill="#5aaa3a"/>
<circle cx="374.1" cy="218.4" r="1.45" fill="#5aaa3a"/>
<circle cx="378.3" cy="218.4" r="1.45" fill="#5aaa3a"/>
<path d="M372.5 215.6H380.1M376.3 212.7V218.4M374.1 212.7H378.5M374.1 218.4H378.5" stroke="#111" stroke-width="0.9" fill="none"/>
<circle cx="385.6" cy="208.6" r="1.45" fill="#1f3c8c"/>
<circle cx="390.8" cy="212.7" r="1.45" fill="#1f3c8c"/>
<circle cx="385" cy="216.7" r="1.45" fill="#1f3c8c"/>
<circle cx="389.1" cy="214.4" r="1.45" fill="#1f3c8c"/>
<path d="M383.1 212.7H391.9M387.5 209.8V216.1M385.3 209.8H389.7M385.3 216.1H389.7" stroke="#111" stroke-width="0.9" fill="none"/>
<circle cx="398.3" cy="215.6" r="1.45" fill="#5aaa3a"/>
<circle cx="400.6" cy="217.3" r="1.45" fill="#5aaa3a"/>
<circle cx="398.3" cy="222.5" r="1.45" fill="#5aaa3a"/>
<path d="M395.3 217.6H402.1M398.7 215.2V220.2M396.5 215.2H400.9M396.5 220.2H400.9" stroke="#111" stroke-width="0.9" fill="none"/>
<circle cx="409.3" cy="204.6" r="1.45" fill="#1f3c8c"/>
<circle cx="407" cy="208.6" r="1.45" fill="#1f3c8c"/>
<circle cx="412.1" cy="209.2" r="1.45" fill="#1f3c8c"/>
<circle cx="409.3" cy="212.1" r="1.45" fill="#1f3c8c"/>
<path d="M405.7 208.6H412.9M409.3 206.3V211.5M407.1 206.3H411.5M407.1 211.5H411.5" stroke="#111" stroke-width="0.9" fill="none"/>
<path d="M376.2 206.3V204H387.7V206.3" fill="none" stroke="#222" stroke-width="0.8"/>
<text x="381.95" y="200.8" font-size="4.9" text-anchor="middle" fill="#333">n.s.</text>
<path d="M398.3 202.2V199.4H409.6V202.2" fill="none" stroke="#222" stroke-width="0.8"/>
<text x="403.95" y="198.6" font-size="4.9" text-anchor="middle" fill="#333"></text>
<text x="404" y="199.6" font-size="6.2" text-anchor="middle" fill="#333">**</text>
<text x="421" y="223.6" font-size="5.4" fill="#222">1</text>
<circle cx="429.1" cy="221.6" r="2.5" fill="#5aaa3a"/>
<text x="434.6" y="223.6" font-size="5.45" fill="#222"><tspan font-style="italic">Gata2</tspan> +/gfp::Tom</text>
<text x="421" y="237.3" font-size="5.4" fill="#222">2</text>
<circle cx="429.1" cy="235.3" r="2.5" fill="#1f3c8c"/>
<text x="434.6" y="237.3" font-size="5.45" fill="#222">3q21q26-<tspan font-style="italic">EVI1</tspan>::<tspan font-style="italic">Gata2</tspan> +/gfp::Tom</text>
<defs><radialGradient id="cellg" cx="40%" cy="35%" r="65%"><stop offset="0" stop-color="#5a2a8c"/><stop offset=".75" stop-color="#3f1470"/><stop offset="1" stop-color="#7a4fb0"/></radialGradient><radialGradient id="cellL" cx="45%" cy="40%" r="60%"><stop offset="0" stop-color="#d7bdf0"/><stop offset=".8" stop-color="#c09ae6"/><stop offset="1" stop-color="#8b5fc0"/></radialGradient><radialGradient id="eryg" cx="40%" cy="35%" r="65%"><stop offset="0" stop-color="#e0401a"/><stop offset="1" stop-color="#a01808"/></radialGradient></defs>
<ellipse cx="418.2" cy="365.2" rx="62.5" ry="17.6" transform="rotate(-44.5 418.2 365.2)" fill="#f0b72a"/>
<path d="M442.3 346.2L430.47 356.51" stroke="#111" stroke-width="1.5"/>
<path d="M426.7 359.8L428.69 354.48L432.24 358.55Z" fill="#111"/>
<path d="M453.7 348L458.39 370.6" stroke="#111" stroke-width="1.5"/>
<path d="M459.4 375.5L455.74 371.15L461.03 370.06Z" fill="#111"/>
<path d="M462.3 345.2L480.16 362.97" stroke="#111" stroke-width="1.5"/>
<path d="M483.7 366.5L478.25 364.89L482.06 361.06Z" fill="#111"/>
<path d="M415 370L401.51 380.02" stroke="#111" stroke-width="1.5"/>
<path d="M397.5 383L399.9 377.85L403.12 382.19Z" fill="#111"/>
<path d="M424.6 371.2L429.72 379.72" stroke="#111" stroke-width="1.5"/>
<path d="M432.3 384L427.41 381.11L432.04 378.32Z" fill="#111"/>
<circle cx="451.7" cy="333.7" r="5" fill="#8a64c0"/>
<circle cx="451.7" cy="333.7" r="4.1" fill="url(#cellg)"/>
<circle cx="447.9" cy="341.3" r="5" fill="#8a64c0"/>
<circle cx="447.9" cy="341.3" r="4.1" fill="url(#cellg)"/>
<circle cx="456.9" cy="340.4" r="5" fill="#8a64c0"/>
<circle cx="456.9" cy="340.4" r="4.1" fill="url(#cellg)"/>
<circle cx="420.2" cy="365.2" r="5" fill="#8a64c0"/>
<circle cx="420.2" cy="365.2" r="4.1" fill="url(#cellg)"/>
<circle cx="435" cy="391.2" r="5" fill="#8a64c0"/>
<circle cx="435" cy="391.2" r="4.1" fill="url(#cellg)"/>
<circle cx="489.6" cy="372.1" r="5.3" fill="#8a64c0"/>
<circle cx="489.6" cy="372.1" r="4.4" fill="url(#cellg)"/>
<circle cx="391.2" cy="391.9" r="10.4" fill="url(#cellL)"/>
<path d="M384.5 389.5q1-4.5 5-4q2-2.5 4.5-.5q3.5-.5 3.5 3q2.5 1.5 1 4.5q.5 3.5-3 3.5q-2 2-5 .5q-3.5 1.5-5-1.5q-3-1.5-1-5z" fill="#4a1f80"/>
<circle cx="466.0" cy="386.6" r="8.6" fill="url(#cellL)"/>
<path d="M460.5 389q2-5.5 6.5-6q3 2 4.5 0.5q1.8 2.5 -0.5 5.5q-1 2.5-5 2.8q-4 .2-5.5-2.8z" fill="#4a1f80"/>
<circle cx="464.2" cy="384.1" r="1.1" fill="#d7bdf0"/>
<ellipse cx="433.9" cy="403.5" rx="3.8" ry="2.7" transform="rotate(20 433.9 403.5)" fill="url(#eryg)"/>
<ellipse cx="372.7" cy="409.3" rx="1.7" ry="1.2" fill="#c8a8ea" stroke="#8a5fc0" stroke-width=".5"/>
<ellipse cx="378.5" cy="404.6" rx="1.7" ry="1.2" fill="#c8a8ea" stroke="#8a5fc0" stroke-width=".5"/>
<ellipse cx="382" cy="408.1" rx="1.7" ry="1.2" fill="#c8a8ea" stroke="#8a5fc0" stroke-width=".5"/>
<text x="425.6" y="325.2" font-size="6.5" font-weight="bold">c-Kit+</text>
<text x="425.6" y="332.6" font-size="6.5" font-weight="bold">HSPC</text>
<text x="374.8" y="380.9" font-size="6.5" font-weight="bold">Mk</text>
<text x="369.6" y="418.5" font-size="6" fill="#222">PLT</text>
<text x="428.7" y="415" font-size="6" text-anchor="middle" fill="#222">Erythrocyte</text>
<text x="455.8" y="403" font-size="6" fill="#222">Neutrophil</text>
<text x="455.8" y="410.6" font-size="6" fill="#222">Monocyte</text>
<text x="485.4" y="385.6" font-size="6" fill="#222">B cell</text>
<text transform="translate(394.5 343.2) rotate(-44)" font-size="6.6" fill="#e07f30" text-anchor="middle">High</text>
<text transform="translate(399.8 349.3) rotate(-44)" font-size="6.6" fill="#e07f30" text-anchor="middle">population</text>
</svg></body></html>
